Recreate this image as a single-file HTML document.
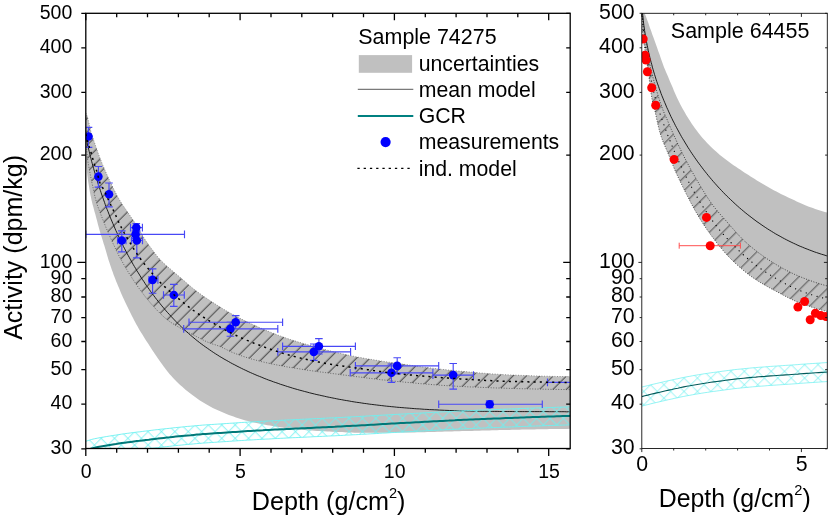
<!DOCTYPE html>
<html><head><meta charset="utf-8"><title>Activity vs Depth</title>
<style>
html,body{margin:0;padding:0;background:#fff;overflow:hidden}
svg{display:block}
text{font-family:"Liberation Sans",sans-serif;fill:#000}
svg{will-change:transform}
</style></head>
<body>
<svg width="830" height="517" viewBox="0 0 830 517">
<defs>
<clipPath id="cl"><rect x="85.8" y="13.3" width="484.4" height="435.2"/></clipPath>
<clipPath id="cr"><rect x="641.8" y="13.3" width="185.5" height="435.2"/></clipPath>
<pattern id="hd" width="9.475" height="9.475" patternUnits="userSpaceOnUse" patternTransform="rotate(-45)"><line x1="0" y1="3.1" x2="9.475" y2="3.1" stroke="#000" stroke-width="0.66"/></pattern>
<pattern id="hdr" width="9.475" height="9.475" patternUnits="userSpaceOnUse" patternTransform="rotate(-45)"><line x1="0" y1="2.65" x2="9.475" y2="2.65" stroke="#000" stroke-width="0.55"/></pattern>
<pattern id="hx" width="9.475" height="9.475" patternUnits="userSpaceOnUse" patternTransform="rotate(45)"><path d="M0 1.63H9.475M2.55 0V9.475" stroke="#6cf0f0" stroke-width="0.78" fill="none"/></pattern>
<pattern id="hxr" width="9.475" height="9.475" patternUnits="userSpaceOnUse" patternTransform="rotate(45)"><path d="M0 1.63H9.475M2.55 0V9.475" stroke="#70f0f0" stroke-width="0.65" fill="none"/></pattern>
</defs>
<rect width="830" height="517" fill="#fff"/>
<g clip-path="url(#cl)">
<path d="M85.8 113 L86.8 115.2 L87.6 117.5 L88.2 119.9 L88.8 122.4 L89.4 124.9 L89.9 127.4 L90.5 129.8 L91.1 132.3 L91.9 134.6 L92.6 137 L93.4 139.4 L94.2 141.8 L95 144.1 L95.8 146.5 L96.7 148.9 L97.5 151.2 L98.3 153.6 L99.2 155.9 L100.1 158.3 L101 160.6 L101.9 162.9 L102.8 165.2 L103.8 167.5 L104.8 169.8 L105.8 172.1 L106.8 174.4 L107.9 176.7 L108.9 179 L110 181.2 L111.1 183.5 L112.1 185.7 L113.2 188 L114.3 190.2 L115.5 192.5 L116.6 194.7 L117.8 196.9 L119 199 L120.3 201.2 L121.6 203.3 L123 205.4 L124.4 207.5 L125.8 209.5 L127.2 211.6 L128.7 213.6 L130.1 215.7 L131.5 217.8 L132.9 219.8 L134.4 221.9 L135.8 223.9 L137.1 226 L138.4 228.2 L139.6 230.4 L140.8 232.6 L142.1 234.8 L143.3 236.9 L144.7 239 L146 241.1 L147.5 243.1 L148.9 245.2 L150.4 247.2 L151.9 249.2 L153.4 251.2 L154.9 253.2 L156.4 255.2 L158 257.2 L159.6 259.1 L161.3 260.9 L163.1 262.6 L164.9 264.3 L166.7 266 L168.6 267.6 L170.6 269.2 L172.5 270.9 L174.4 272.5 L176.3 274.1 L178.2 275.7 L180.1 277.3 L182 279 L183.9 280.6 L185.8 282.3 L187.7 283.9 L189.6 285.5 L191.5 287.2 L193.4 288.7 L195.4 290.3 L197.4 291.8 L199.4 293.3 L201.4 294.7 L203.4 296.2 L205.5 297.6 L207.6 299 L209.7 300.4 L211.8 301.8 L213.9 303.1 L216 304.5 L218.1 305.8 L220.2 307.1 L222.3 308.4 L224.5 309.7 L226.6 311 L228.8 312.3 L231 313.5 L233.2 314.7 L235.4 315.9 L237.6 317 L239.8 318.2 L242 319.3 L244.3 320.4 L246.5 321.6 L248.8 322.6 L251 323.7 L253.3 324.8 L255.6 325.8 L257.8 326.8 L260.1 327.8 L262.4 328.8 L264.7 329.8 L267 330.8 L269.3 331.7 L271.7 332.7 L274 333.6 L276.3 334.5 L278.7 335.4 L281 336.2 L283.3 337.1 L285.7 337.9 L288.1 338.7 L290.4 339.5 L292.8 340.3 L295.2 341 L297.6 341.8 L300 342.5 L302.4 343.2 L304.8 343.9 L307.2 344.6 L309.6 345.3 L312 346 L314.4 346.7 L316.8 347.4 L319.2 348.1 L321.6 348.7 L324 349.4 L326.5 350 L328.9 350.6 L331.3 351.2 L333.7 351.8 L336.2 352.4 L338.6 352.9 L341 353.5 L343.5 354.1 L345.9 354.6 L348.4 355.2 L350.8 355.7 L353.3 356.2 L355.7 356.7 L358.2 357.2 L360.6 357.6 L363.1 358.1 L365.5 358.5 L368 358.9 L370.5 359.3 L372.9 359.7 L375.4 360.1 L377.9 360.5 L380.3 360.9 L382.8 361.3 L385.3 361.7 L387.8 362 L390.2 362.4 L392.7 362.7 L395.2 363.1 L397.7 363.5 L400.1 363.8 L402.6 364.1 L405.1 364.5 L407.6 364.8 L410 365.2 L412.5 365.5 L415 365.9 L417.5 366.2 L419.9 366.6 L422.4 366.9 L424.9 367.2 L427.4 367.5 L429.9 367.9 L432.3 368.2 L434.8 368.5 L437.3 368.8 L439.8 369.1 L442.3 369.4 L444.8 369.6 L447.2 369.9 L449.7 370.2 L452.2 370.4 L454.7 370.7 L457.2 370.9 L459.7 371.1 L462.2 371.4 L464.7 371.6 L467.1 371.8 L469.6 372 L472.1 372.3 L474.6 372.5 L477.1 372.7 L479.6 372.9 L482.1 373.1 L484.6 373.3 L487.1 373.5 L489.6 373.7 L492.1 373.9 L494.6 374 L497.1 374.2 L499.6 374.4 L502.1 374.5 L504.5 374.7 L507 374.8 L509.5 374.9 L512 375 L514.5 375.1 L517 375.2 L519.5 375.3 L522 375.4 L524.5 375.5 L527 375.6 L529.5 375.7 L532 375.8 L534.5 375.9 L537 375.9 L539.5 376 L542 376.1 L544.5 376.2 L547 376.2 L549.5 376.3 L552 376.4 L554.5 376.4 L557 376.5 L559.5 376.5 L562 376.5 L564.5 376.6 L567 376.6 L569.5 376.6 L570.7 376.6 L570.7 428.8 L569.5 428.8 L567 428.9 L564.5 428.9 L562 428.9 L559.5 429 L557 429 L554.5 429 L552 429.1 L549.5 429.1 L547 429.2 L544.5 429.2 L542 429.3 L539.5 429.3 L537 429.3 L534.5 429.4 L532 429.4 L529.5 429.5 L527 429.5 L524.5 429.6 L522 429.6 L519.5 429.7 L517 429.7 L514.5 429.8 L512 429.8 L509.5 429.9 L507 430 L504.5 430 L502 430.1 L499.5 430.1 L497 430.2 L494.5 430.3 L492 430.3 L489.5 430.4 L487 430.5 L484.5 430.5 L482 430.6 L479.5 430.7 L477 430.7 L474.5 430.8 L472 430.9 L469.5 430.9 L467 431 L464.5 431.1 L462 431.1 L459.5 431.2 L457 431.3 L454.5 431.3 L452 431.4 L449.5 431.5 L447.1 431.5 L444.6 431.6 L442.1 431.7 L439.6 431.8 L437.1 431.8 L434.6 431.9 L432.1 432 L429.6 432.1 L427.1 432.1 L424.6 432.2 L422.1 432.2 L419.6 432.3 L417.1 432.3 L414.6 432.4 L412.1 432.4 L409.6 432.4 L407.1 432.5 L404.6 432.5 L402.1 432.5 L399.6 432.6 L397.1 432.6 L394.6 432.6 L392.1 432.6 L389.6 432.7 L387.1 432.7 L384.6 432.7 L382.1 432.7 L379.6 432.7 L377.1 432.8 L374.6 432.8 L372.1 432.8 L369.6 432.8 L367.1 432.8 L364.6 432.8 L362.1 432.8 L359.6 432.8 L357.1 432.8 L354.6 432.7 L352.1 432.6 L349.6 432.5 L347.1 432.4 L344.6 432.3 L342.1 432.1 L339.6 432 L337.1 431.9 L334.6 431.8 L332.1 431.7 L329.6 431.6 L327.1 431.4 L324.6 431.3 L322.1 431.2 L319.6 431 L317.1 430.9 L314.6 430.7 L312.1 430.6 L309.6 430.4 L307.1 430.2 L304.6 430 L302.1 429.8 L299.7 429.5 L297.2 429.3 L294.7 429 L292.2 428.7 L289.7 428.5 L287.2 428.2 L284.8 427.9 L282.3 427.5 L279.8 427.2 L277.3 426.8 L274.8 426.5 L272.4 426.1 L269.9 425.6 L267.4 425.2 L265 424.8 L262.5 424.3 L260.1 423.8 L257.6 423.3 L255.2 422.8 L252.7 422.3 L250.3 421.7 L247.9 421.1 L245.5 420.4 L243.1 419.7 L240.7 419 L238.3 418.3 L235.9 417.5 L233.5 416.6 L231.2 415.8 L228.9 414.9 L226.5 414 L224.2 413.1 L221.9 412.1 L219.6 411.1 L217.3 410.1 L215 409 L212.8 407.9 L210.6 406.7 L208.4 405.6 L206.2 404.3 L204.1 403.1 L202 401.8 L199.9 400.4 L197.8 399 L195.8 397.5 L193.7 396 L191.7 394.5 L189.7 393 L187.8 391.4 L185.8 389.9 L183.9 388.3 L182 386.6 L180.1 385 L178.3 383.3 L176.5 381.5 L174.8 379.7 L173.1 377.9 L171.4 376.1 L169.7 374.2 L168.1 372.2 L166.5 370.3 L165 368.3 L163.5 366.3 L162.1 364.3 L160.6 362.3 L159.2 360.2 L157.8 358.2 L156.3 356.1 L154.9 354 L153.6 351.9 L152.2 349.9 L150.8 347.8 L149.5 345.7 L148.1 343.6 L146.7 341.5 L145.4 339.4 L144 337.3 L142.7 335.1 L141.4 333 L140.1 330.9 L138.8 328.7 L137.6 326.5 L136.4 324.4 L135.2 322.2 L134 319.9 L132.9 317.7 L131.7 315.5 L130.6 313.3 L129.5 311 L128.4 308.8 L127.3 306.5 L126.2 304.3 L125.1 302 L124.1 299.8 L123 297.5 L122 295.2 L121 292.9 L120 290.6 L119.1 288.3 L118.1 286 L117.2 283.7 L116.2 281.4 L115.3 279 L114.4 276.7 L113.5 274.4 L112.7 272 L111.8 269.7 L111 267.3 L110.2 264.9 L109.4 262.6 L108.6 260.2 L107.9 257.8 L107.2 255.4 L106.5 253 L105.8 250.6 L105.1 248.2 L104.4 245.8 L103.6 243.4 L102.9 241 L102.1 238.6 L101.4 236.3 L100.6 233.9 L99.9 231.5 L99.2 229.1 L98.6 226.7 L97.9 224.3 L97.3 221.8 L96.7 219.4 L96 217 L95.4 214.6 L94.7 212.2 L94 209.8 L93.4 207.3 L92.7 204.9 L92.1 202.5 L91.5 200.1 L91 197.6 L90.5 195.2 L90 192.7 L89.6 190.3 L89.2 187.8 L88.8 185.3 L88.4 182.9 L88 180.4 L87.7 177.9 L87.4 175.4 L87.1 173 L86.9 170.5 L86.6 168 L86.4 165.5 L86.2 163 L86 160.5 L85.8 158 Z" fill="#c0c0c0"/>
<path d="M85.8 113 L86.8 115.2 L87.6 117.5 L88.2 119.9 L88.8 122.4 L89.4 124.9 L89.9 127.4 L90.5 129.8 L91.1 132.3 L91.9 134.6 L92.6 137 L93.4 139.4 L94.2 141.8 L95 144.1 L95.8 146.5 L96.7 148.9 L97.5 151.2 L98.3 153.6 L99.2 155.9 L100.1 158.3 L101 160.6 L101.9 162.9 L102.8 165.2 L103.8 167.5 L104.8 169.8 L105.8 172.1 L106.8 174.4 L107.9 176.7 L108.9 179 L110 181.2 L111.1 183.5 L112.1 185.7 L113.2 188 L114.3 190.2 L115.5 192.5 L116.6 194.7 L117.8 196.9 L119 199 L120.3 201.2 L121.6 203.3 L123 205.4 L124.4 207.5 L125.8 209.5 L127.2 211.6 L128.7 213.6 L130.1 215.7 L131.5 217.8 L132.9 219.8 L134.4 221.9 L135.8 223.9 L137.1 226 L138.4 228.2 L139.6 230.4 L140.8 232.6 L142.1 234.8 L143.3 236.9 L144.7 239 L146 241.1 L147.5 243.1 L148.9 245.2 L150.4 247.2 L151.9 249.2 L153.4 251.2 L154.9 253.2 L156.4 255.2 L158 257.2 L159.6 259.1 L161.3 260.9 L163.1 262.6 L164.9 264.3 L166.7 266 L168.6 267.6 L170.6 269.2 L172.5 270.9 L174.4 272.5 L176.3 274.1 L178.2 275.7 L180.1 277.3 L182 279 L183.9 280.6 L185.8 282.3 L187.7 283.9 L189.6 285.5 L191.5 287.2 L193.4 288.7 L195.4 290.3 L197.4 291.8 L199.4 293.3 L201.4 294.7 L203.4 296.2 L205.5 297.6 L207.6 299 L209.7 300.4 L211.8 301.8 L213.9 303.1 L216 304.5 L218.1 305.8 L220.2 307.1 L222.3 308.4 L224.5 309.7 L226.6 311 L228.8 312.3 L231 313.5 L233.2 314.7 L235.4 315.9 L237.6 317 L239.8 318.2 L242 319.3 L244.3 320.4 L246.5 321.6 L248.8 322.6 L251 323.7 L253.3 324.8 L255.6 325.8 L257.8 326.8 L260.1 327.8 L262.4 328.8 L264.7 329.8 L267 330.8 L269.3 331.7 L271.7 332.7 L274 333.6 L276.3 334.5 L278.7 335.4 L281 336.2 L283.3 337.1 L285.7 337.9 L288.1 338.7 L290.4 339.5 L292.8 340.3 L295.2 341 L297.6 341.8 L300 342.5 L302.4 343.2 L304.8 343.9 L307.2 344.6 L309.6 345.3 L312 346 L314.4 346.7 L316.8 347.4 L319.2 348.1 L321.6 348.7 L324 349.4 L326.5 350 L328.9 350.6 L331.3 351.2 L333.7 351.8 L336.2 352.4 L338.6 352.9 L341 353.5 L343.5 354.1 L345.9 354.6 L348.4 355.2 L350.8 355.7 L353.3 356.2 L355.7 356.7 L358.2 357.2 L360.6 357.6 L363.1 358.1 L365.5 358.5 L368 358.9 L370.5 359.3 L372.9 359.7 L375.4 360.1 L377.9 360.5 L380.3 360.9 L382.8 361.3 L385.3 361.7 L387.8 362 L390.2 362.4 L392.7 362.7 L395.2 363.1 L397.7 363.5 L400.1 363.8 L402.6 364.1 L405.1 364.5 L407.6 364.8 L410 365.2 L412.5 365.5 L415 365.9 L417.5 366.2 L419.9 366.6 L422.4 366.9 L424.9 367.2 L427.4 367.5 L429.9 367.9 L432.3 368.2 L434.8 368.5 L437.3 368.8 L439.8 369.1 L442.3 369.4 L444.8 369.6 L447.2 369.9 L449.7 370.2 L452.2 370.4 L454.7 370.7 L457.2 370.9 L459.7 371.1 L462.2 371.4 L464.7 371.6 L467.1 371.8 L469.6 372 L472.1 372.3 L474.6 372.5 L477.1 372.7 L479.6 372.9 L482.1 373.1 L484.6 373.3 L487.1 373.5 L489.6 373.7 L492.1 373.9 L494.6 374 L497.1 374.2 L499.6 374.4 L502.1 374.5 L504.5 374.7 L507 374.8 L509.5 374.9 L512 375 L514.5 375.1 L517 375.2 L519.5 375.3 L522 375.4 L524.5 375.5 L527 375.6 L529.5 375.7 L532 375.8 L534.5 375.9 L537 375.9 L539.5 376 L542 376.1 L544.5 376.2 L547 376.2 L549.5 376.3 L552 376.4 L554.5 376.4 L557 376.5 L559.5 376.5 L562 376.5 L564.5 376.6 L567 376.6 L569.5 376.6 L570.7 376.6 L570.7 389.6 L569.8 389.6 L567.3 389.6 L564.8 389.5 L562.3 389.5 L559.8 389.5 L557.3 389.4 L554.8 389.4 L552.3 389.4 L549.8 389.3 L547.3 389.3 L544.8 389.2 L542.3 389.2 L539.8 389.1 L537.3 389.1 L534.8 389 L532.3 388.9 L529.8 388.9 L527.3 388.8 L524.8 388.8 L522.3 388.7 L519.8 388.6 L517.3 388.6 L514.8 388.5 L512.3 388.5 L509.8 388.4 L507.3 388.3 L504.8 388.2 L502.3 388.2 L499.8 388.1 L497.3 388 L494.8 387.9 L492.3 387.8 L489.8 387.7 L487.3 387.6 L484.8 387.5 L482.3 387.4 L479.8 387.3 L477.3 387.2 L474.8 387.1 L472.3 387 L469.8 386.9 L467.3 386.8 L464.8 386.6 L462.3 386.5 L459.8 386.4 L457.3 386.3 L454.8 386.1 L452.4 386 L449.9 385.8 L447.4 385.7 L444.9 385.5 L442.4 385.4 L439.9 385.2 L437.4 385 L434.9 384.8 L432.4 384.6 L429.9 384.4 L427.4 384.2 L424.9 384 L422.4 383.8 L419.9 383.6 L417.4 383.3 L415 383.1 L412.5 382.9 L410 382.6 L407.5 382.4 L405 382.2 L402.5 381.9 L400 381.7 L397.5 381.5 L395 381.2 L392.6 381 L390.1 380.7 L387.6 380.4 L385.1 380.1 L382.6 379.9 L380.1 379.6 L377.7 379.3 L375.2 379 L372.7 378.7 L370.2 378.4 L367.7 378.1 L365.3 377.8 L362.8 377.4 L360.3 377.1 L357.8 376.8 L355.3 376.5 L352.8 376.2 L350.4 375.8 L347.9 375.5 L345.4 375.2 L342.9 374.9 L340.4 374.6 L338 374.2 L335.5 373.9 L333 373.6 L330.5 373.3 L328 373 L325.6 372.6 L323.1 372.3 L320.6 372 L318.1 371.7 L315.7 371.3 L313.2 371 L310.7 370.6 L308.2 370.3 L305.8 369.9 L303.3 369.5 L300.8 369.1 L298.3 368.7 L295.9 368.3 L293.4 367.9 L290.9 367.5 L288.5 367.1 L286 366.7 L283.6 366.2 L281.1 365.7 L278.7 365.3 L276.2 364.8 L273.7 364.3 L271.3 363.8 L268.8 363.3 L266.4 362.7 L264 362.2 L261.5 361.6 L259.1 361 L256.7 360.4 L254.3 359.7 L251.9 359.1 L249.5 358.4 L247.1 357.6 L244.7 356.9 L242.3 356.1 L239.9 355.2 L237.6 354.4 L235.2 353.5 L232.9 352.6 L230.6 351.7 L228.4 350.6 L226.1 349.4 L223.9 348.3 L221.7 347.2 L219.4 346.2 L217 345.4 L214.6 344.6 L212.2 343.9 L209.9 343.1 L207.6 342.1 L205.3 341.1 L203.1 340 L200.8 338.8 L198.6 337.6 L196.4 336.5 L194.2 335.4 L191.9 334.2 L189.7 333.1 L187.5 332 L185.3 330.8 L183.1 329.6 L180.9 328.4 L178.7 327.1 L176.5 325.9 L174.4 324.6 L172.3 323.3 L170.2 321.9 L168.2 320.4 L166.2 318.9 L164.3 317.3 L162.5 315.6 L160.6 313.8 L158.9 312.1 L157.1 310.3 L155.4 308.5 L153.7 306.6 L152.1 304.8 L150.4 302.9 L148.8 300.9 L147.2 299 L145.6 297.1 L144.1 295.1 L142.6 293.1 L141.1 291.1 L139.6 289.1 L138.1 287.1 L136.7 285 L135.3 283 L133.9 280.9 L132.5 278.8 L131.2 276.7 L129.8 274.6 L128.5 272.5 L127.2 270.3 L125.9 268.2 L124.6 266 L123.4 263.8 L122.2 261.6 L120.9 259.5 L119.8 257.3 L118.6 255.1 L117.5 252.8 L116.4 250.6 L115.3 248.3 L114.3 246 L113.2 243.8 L112.2 241.5 L111.1 239.2 L110.1 236.9 L109.1 234.6 L108.1 232.4 L107.1 230.1 L106.1 227.8 L105.2 225.4 L104.2 223.1 L103.3 220.8 L102.4 218.5 L101.5 216.2 L100.6 213.8 L99.7 211.5 L98.8 209.1 L97.9 206.8 L97.1 204.4 L96.4 202 L95.7 199.6 L95.1 197.2 L94.5 194.8 L94 192.3 L93.5 189.9 L93 187.4 L92.4 185 L91.9 182.6 L91.4 180.1 L90.9 177.7 L90.4 175.2 L89.9 172.7 L89.5 170.3 L89 167.8 L88.6 165.4 L88.1 162.9 L87.8 160.4 L87.4 157.9 L87.2 155.5 L87 153 L86.8 150.5 L86.6 148 L86.5 145.5 L86.3 143 L86.2 140.5 L86 138 L85.9 135.5 L85.9 133 L85.8 130.5 L85.8 128 Z" fill="url(#hd)"/>
<path d="M85.8 128 L85.8 130.5 L85.9 133 L85.9 135.5 L86 138 L86.2 140.5 L86.3 143 L86.5 145.5 L86.6 148 L86.8 150.5 L87 153 L87.2 155.5 L87.4 157.9 L87.8 160.4 L88.1 162.9 L88.6 165.4 L89 167.8 L89.5 170.3 L89.9 172.7 L90.4 175.2 L90.9 177.7 L91.4 180.1 L91.9 182.6 L92.4 185 L93 187.4 L93.5 189.9 L94 192.3 L94.5 194.8 L95.1 197.2 L95.7 199.6 L96.4 202 L97.1 204.4 L97.9 206.8 L98.8 209.1 L99.7 211.5 L100.6 213.8 L101.5 216.2 L102.4 218.5 L103.3 220.8 L104.2 223.1 L105.2 225.4 L106.1 227.8 L107.1 230.1 L108.1 232.4 L109.1 234.6 L110.1 236.9 L111.1 239.2 L112.2 241.5 L113.2 243.8 L114.3 246 L115.3 248.3 L116.4 250.6 L117.5 252.8 L118.6 255.1 L119.8 257.3 L120.9 259.5 L122.2 261.6 L123.4 263.8 L124.6 266 L125.9 268.2 L127.2 270.3 L128.5 272.5 L129.8 274.6 L131.2 276.7 L132.5 278.8 L133.9 280.9 L135.3 283 L136.7 285 L138.1 287.1 L139.6 289.1 L141.1 291.1 L142.6 293.1 L144.1 295.1 L145.6 297.1 L147.2 299 L148.8 300.9 L150.4 302.9 L152.1 304.8 L153.7 306.6 L155.4 308.5 L157.1 310.3 L158.9 312.1 L160.6 313.8 L162.5 315.6 L164.3 317.3 L166.2 318.9 L168.2 320.4 L170.2 321.9 L172.3 323.3 L174.4 324.6 L176.5 325.9 L178.7 327.1 L180.9 328.4 L183.1 329.6 L185.3 330.8 L187.5 332 L189.7 333.1 L191.9 334.2 L194.2 335.4 L196.4 336.5 L198.6 337.6 L200.8 338.8 L203.1 340 L205.3 341.1 L207.6 342.1 L209.9 343.1 L212.2 343.9 L214.6 344.6 L217 345.4 L219.4 346.2 L221.7 347.2 L223.9 348.3 L226.1 349.4 L228.4 350.6 L230.6 351.7 L232.9 352.6 L235.2 353.5 L237.6 354.4 L239.9 355.2 L242.3 356.1 L244.7 356.9 L247.1 357.6 L249.5 358.4 L251.9 359.1 L254.3 359.7 L256.7 360.4 L259.1 361 L261.5 361.6 L264 362.2 L266.4 362.7 L268.8 363.3 L271.3 363.8 L273.7 364.3 L276.2 364.8 L278.7 365.3 L281.1 365.7 L283.6 366.2 L286 366.7 L288.5 367.1 L290.9 367.5 L293.4 367.9 L295.9 368.3 L298.3 368.7 L300.8 369.1 L303.3 369.5 L305.8 369.9 L308.2 370.3 L310.7 370.6 L313.2 371 L315.7 371.3 L318.1 371.7 L320.6 372 L323.1 372.3 L325.6 372.6 L328 373 L330.5 373.3 L333 373.6 L335.5 373.9 L338 374.2 L340.4 374.6 L342.9 374.9 L345.4 375.2 L347.9 375.5 L350.4 375.8 L352.8 376.2 L355.3 376.5 L357.8 376.8 L360.3 377.1 L362.8 377.4 L365.3 377.8 L367.7 378.1 L370.2 378.4 L372.7 378.7 L375.2 379 L377.7 379.3 L380.1 379.6 L382.6 379.9 L385.1 380.1 L387.6 380.4 L390.1 380.7 L392.6 381 L395 381.2 L397.5 381.5 L400 381.7 L402.5 381.9 L405 382.2 L407.5 382.4 L410 382.6 L412.5 382.9 L415 383.1 L417.4 383.3 L419.9 383.6 L422.4 383.8 L424.9 384 L427.4 384.2 L429.9 384.4 L432.4 384.6 L434.9 384.8 L437.4 385 L439.9 385.2 L442.4 385.4 L444.9 385.5 L447.4 385.7 L449.9 385.8 L452.4 386 L454.8 386.1 L457.3 386.3 L459.8 386.4 L462.3 386.5 L464.8 386.6 L467.3 386.8 L469.8 386.9 L472.3 387 L474.8 387.1 L477.3 387.2 L479.8 387.3 L482.3 387.4 L484.8 387.5 L487.3 387.6 L489.8 387.7 L492.3 387.8 L494.8 387.9 L497.3 388 L499.8 388.1 L502.3 388.2 L504.8 388.2 L507.3 388.3 L509.8 388.4 L512.3 388.5 L514.8 388.5 L517.3 388.6 L519.8 388.6 L522.3 388.7 L524.8 388.8 L527.3 388.8 L529.8 388.9 L532.3 388.9 L534.8 389 L537.3 389.1 L539.8 389.1 L542.3 389.2 L544.8 389.2 L547.3 389.3 L549.8 389.3 L552.3 389.4 L554.8 389.4 L557.3 389.4 L559.8 389.5 L562.3 389.5 L564.8 389.5 L567.3 389.6 L569.8 389.6 L570.7 389.6" fill="none" stroke="#333" stroke-width="0.65" stroke-dasharray="1 1.6"/>
<path d="M85.8 113 L86.8 115.2 L87.6 117.5 L88.2 119.9 L88.8 122.4 L89.4 124.9 L89.9 127.4 L90.5 129.8 L91.1 132.3 L91.9 134.6 L92.6 137 L93.4 139.4 L94.2 141.8 L95 144.1 L95.8 146.5 L96.7 148.9 L97.5 151.2 L98.3 153.6 L99.2 155.9 L100.1 158.3 L101 160.6 L101.9 162.9 L102.8 165.2 L103.8 167.5 L104.8 169.8 L105.8 172.1 L106.8 174.4 L107.9 176.7 L108.9 179 L110 181.2 L111.1 183.5 L112.1 185.7 L113.2 188 L114.3 190.2 L115.5 192.5 L116.6 194.7 L117.8 196.9 L119 199 L120.3 201.2 L121.6 203.3 L123 205.4 L124.4 207.5 L125.8 209.5 L127.2 211.6 L128.7 213.6 L130.1 215.7 L131.5 217.8 L132.9 219.8 L134.4 221.9 L135.8 223.9 L137.1 226 L138.4 228.2 L139.6 230.4 L140.8 232.6 L142.1 234.8 L143.3 236.9 L144.7 239 L146 241.1 L147.5 243.1 L148.9 245.2 L150.4 247.2 L151.9 249.2 L153.4 251.2 L154.9 253.2 L156.4 255.2 L158 257.2 L159.6 259.1 L161.3 260.9 L163.1 262.6 L164.9 264.3 L166.7 266 L168.6 267.6 L170.6 269.2 L172.5 270.9 L174.4 272.5 L176.3 274.1 L178.2 275.7 L180.1 277.3 L182 279 L183.9 280.6 L185.8 282.3 L187.7 283.9 L189.6 285.5 L191.5 287.2 L193.4 288.7 L195.4 290.3 L197.4 291.8 L199.4 293.3 L201.4 294.7 L203.4 296.2 L205.5 297.6 L207.6 299 L209.7 300.4 L211.8 301.8 L213.9 303.1 L216 304.5 L218.1 305.8 L220.2 307.1 L222.3 308.4 L224.5 309.7 L226.6 311 L228.8 312.3 L231 313.5 L233.2 314.7 L235.4 315.9 L237.6 317 L239.8 318.2 L242 319.3 L244.3 320.4 L246.5 321.6 L248.8 322.6 L251 323.7 L253.3 324.8 L255.6 325.8 L257.8 326.8 L260.1 327.8 L262.4 328.8 L264.7 329.8 L267 330.8 L269.3 331.7 L271.7 332.7 L274 333.6 L276.3 334.5 L278.7 335.4 L281 336.2 L283.3 337.1 L285.7 337.9 L288.1 338.7 L290.4 339.5 L292.8 340.3 L295.2 341 L297.6 341.8 L300 342.5 L302.4 343.2 L304.8 343.9 L307.2 344.6 L309.6 345.3 L312 346 L314.4 346.7 L316.8 347.4 L319.2 348.1 L321.6 348.7 L324 349.4 L326.5 350 L328.9 350.6 L331.3 351.2 L333.7 351.8 L336.2 352.4 L338.6 352.9 L341 353.5 L343.5 354.1 L345.9 354.6 L348.4 355.2 L350.8 355.7 L353.3 356.2 L355.7 356.7 L358.2 357.2 L360.6 357.6 L363.1 358.1 L365.5 358.5 L368 358.9 L370.5 359.3 L372.9 359.7 L375.4 360.1 L377.9 360.5 L380.3 360.9 L382.8 361.3 L385.3 361.7 L387.8 362 L390.2 362.4 L392.7 362.7 L395.2 363.1 L397.7 363.5 L400.1 363.8 L402.6 364.1 L405.1 364.5 L407.6 364.8 L410 365.2 L412.5 365.5 L415 365.9 L417.5 366.2 L419.9 366.6 L422.4 366.9 L424.9 367.2 L427.4 367.5 L429.9 367.9 L432.3 368.2 L434.8 368.5 L437.3 368.8 L439.8 369.1 L442.3 369.4 L444.8 369.6 L447.2 369.9 L449.7 370.2 L452.2 370.4 L454.7 370.7 L457.2 370.9 L459.7 371.1 L462.2 371.4 L464.7 371.6 L467.1 371.8 L469.6 372 L472.1 372.3 L474.6 372.5 L477.1 372.7 L479.6 372.9 L482.1 373.1 L484.6 373.3 L487.1 373.5 L489.6 373.7 L492.1 373.9 L494.6 374 L497.1 374.2 L499.6 374.4 L502.1 374.5 L504.5 374.7 L507 374.8 L509.5 374.9 L512 375 L514.5 375.1 L517 375.2 L519.5 375.3 L522 375.4 L524.5 375.5 L527 375.6 L529.5 375.7 L532 375.8 L534.5 375.9 L537 375.9 L539.5 376 L542 376.1 L544.5 376.2 L547 376.2 L549.5 376.3 L552 376.4 L554.5 376.4 L557 376.5 L559.5 376.5 L562 376.5 L564.5 376.6 L567 376.6 L569.5 376.6 L570.7 376.6" fill="none" stroke="#555" stroke-width="0.6" stroke-dasharray="1 1.6"/>
<path d="M85.8 137 L86.4 139.4 L86.9 141.8 L87.4 144.2 L88 146.7 L88.6 149.1 L89.2 151.5 L89.8 154 L90.4 156.4 L91 158.8 L91.6 161.3 L92.3 163.7 L92.9 166.1 L93.6 168.5 L94.3 171 L95 173.4 L95.7 175.8 L96.5 178.2 L97.2 180.7 L97.9 183.1 L98.7 185.5 L99.5 187.9 L100.3 190.3 L101.1 192.7 L101.9 195.1 L102.8 197.5 L103.6 199.9 L104.5 202.3 L105.3 204.7 L106.2 207.1 L107.1 209.4 L108.1 211.8 L109 214.2 L109.9 216.5 L110.9 218.9 L111.9 221.2 L112.9 223.6 L113.9 225.9 L114.9 228.2 L115.9 230.6 L117 232.9 L118 235.2 L119.1 237.5 L120.2 239.8 L121.3 242 L122.4 244.3 L123.5 246.6 L124.7 248.8 L125.8 251.1 L127 253.3 L128.2 255.5 L129.4 257.7 L130.6 259.9 L131.9 262.1 L133.1 264.3 L134.4 266.5 L135.7 268.6 L136.9 270.8 L138.3 272.9 L139.6 275 L140.9 277.2 L142.3 279.3 L143.7 281.3 L145 283.4 L146.4 285.5 L147.9 287.5 L149.3 289.5 L150.7 291.6 L152.2 293.6 L153.7 295.5 L155.2 297.5 L156.7 299.5 L158.2 301.4 L159.8 303.3 L161.3 305.2 L162.9 307.1 L164.5 309 L166.1 310.9 L167.7 312.7 L169.4 314.5 L171 316.3 L172.7 318.1 L174.4 319.9 L176.1 321.7 L177.8 323.4 L179.5 325.1 L181.3 326.8 L183.1 328.5 L184.8 330.1 L186.7 331.8 L188.5 333.4 L190.3 335 L192.2 336.6 L194 338.1 L195.9 339.7 L197.8 341.2 L199.7 342.7 L201.7 344.2 L203.6 345.6 L205.6 347 L207.6 348.4 L209.6 349.8 L211.6 351.2 L213.7 352.6 L215.7 353.9 L217.8 355.2 L219.8 356.5 L221.9 357.7 L224 359 L226.2 360.2 L228.3 361.4 L230.4 362.6 L232.6 363.8 L234.8 364.9 L237 366.1 L239.2 367.2 L241.4 368.3 L243.6 369.4 L245.8 370.4 L248.1 371.5 L250.3 372.5 L252.6 373.5 L254.9 374.5 L257.2 375.5 L259.5 376.4 L261.8 377.3 L264.1 378.3 L266.4 379.2 L268.7 380.1 L271.1 380.9 L273.4 381.8 L275.8 382.6 L278.2 383.4 L280.5 384.3 L282.9 385 L285.3 385.8 L287.7 386.6 L290.1 387.3 L292.5 388.1 L294.9 388.8 L297.4 389.5 L299.8 390.2 L302.2 390.8 L304.7 391.5 L307.1 392.1 L309.6 392.8 L312 393.4 L314.5 394 L316.9 394.6 L319.4 395.1 L321.9 395.7 L324.3 396.2 L326.8 396.8 L329.3 397.3 L331.8 397.8 L334.3 398.3 L336.7 398.8 L339.2 399.3 L341.7 399.7 L344.2 400.2 L346.7 400.6 L349.2 401 L351.7 401.5 L354.2 401.9 L356.7 402.3 L359.2 402.6 L361.7 403 L364.2 403.4 L366.7 403.7 L369.2 404.1 L371.7 404.4 L374.2 404.7 L376.7 405 L379.2 405.3 L381.7 405.6 L384.2 405.9 L386.7 406.2 L389.2 406.4 L391.7 406.7 L394.2 406.9 L396.7 407.2 L399.3 407.4 L401.8 407.6 L404.3 407.8 L406.8 408 L409.3 408.2 L411.8 408.4 L414.3 408.6 L416.8 408.8 L419.4 408.9 L421.9 409.1 L424.4 409.3 L426.9 409.4 L429.4 409.6 L431.9 409.7 L434.4 409.8 L437 409.9 L439.5 410.1 L442 410.2 L444.5 410.3 L447 410.4 L449.5 410.5 L452 410.5 L454.6 410.6 L457.1 410.7 L459.6 410.8 L462.1 410.9 L464.6 410.9 L467.1 411 L469.6 411 L472.1 411.1 L474.6 411.1 L477.2 411.2 L479.7 411.2 L482.2 411.3 L484.7 411.3 L487.2 411.3 L489.7 411.4 L492.2 411.4 L494.7 411.4 L497.2 411.4 L499.7 411.5 L502.2 411.5 L504.7 411.5 L507.2 411.5 L509.7 411.5 L512.2 411.5 L514.7 411.6 L517.2 411.6 L519.7 411.6 L522.2 411.6 L524.6 411.6 L527.1 411.6 L529.6 411.6 L532.1 411.6 L534.6 411.6 L537.1 411.6 L539.5 411.6 L542 411.6 L544.5 411.6 L547 411.6 L549.4 411.7 L551.9 411.7 L554.4 411.7 L556.8 411.7 L559.3 411.7 L561.8 411.7 L564.2 411.7 L566.7 411.8 L569.2 411.8 L570.7 411.8" fill="none" stroke="#000" stroke-width="0.85"/>
<path d="M85.8 441.3 L88.8 440.3 L91.8 439.4 L94.8 438.7 L97.8 438.1 L100.8 437.5 L103.8 437 L106.8 436.5 L109.8 436 L112.8 435.5 L115.8 435.1 L118.8 434.6 L121.8 434.1 L124.8 433.7 L127.8 433.3 L130.8 432.9 L133.8 432.5 L136.8 432.1 L139.8 431.8 L142.8 431.4 L145.8 431 L148.8 430.7 L151.8 430.3 L154.8 429.9 L157.8 429.6 L160.8 429.2 L163.8 428.9 L166.8 428.6 L169.8 428.3 L172.8 427.9 L175.8 427.6 L178.8 427.3 L181.8 427 L184.8 426.7 L187.8 426.4 L190.8 426.2 L193.8 425.9 L196.8 425.6 L199.8 425.4 L202.8 425.1 L205.8 424.9 L208.8 424.7 L211.8 424.5 L214.8 424.3 L217.8 424.1 L220.8 423.9 L223.8 423.7 L226.8 423.5 L229.8 423.3 L232.8 423.1 L235.8 422.9 L238.8 422.7 L241.8 422.5 L244.8 422.3 L247.8 422.1 L250.8 422 L253.8 421.8 L256.8 421.6 L259.8 421.4 L262.8 421.3 L265.8 421.1 L268.8 421 L271.8 420.8 L274.8 420.6 L277.8 420.5 L280.8 420.3 L283.8 420.2 L286.8 420 L289.8 419.9 L292.8 419.7 L295.8 419.6 L298.8 419.5 L301.8 419.3 L304.8 419.2 L307.8 419 L310.8 418.9 L313.8 418.7 L316.8 418.6 L319.8 418.5 L322.8 418.3 L325.8 418.2 L328.8 418 L331.8 417.9 L334.8 417.8 L337.8 417.6 L340.8 417.5 L343.8 417.3 L346.8 417.1 L349.8 417 L352.8 416.8 L355.8 416.7 L358.8 416.5 L361.8 416.3 L364.8 416.2 L367.8 416 L370.8 415.8 L373.8 415.7 L376.8 415.5 L379.8 415.3 L382.8 415.1 L385.8 415 L388.8 414.8 L391.8 414.6 L394.8 414.5 L397.8 414.3 L400.8 414.1 L403.8 414 L406.8 413.8 L409.8 413.7 L412.8 413.5 L415.8 413.3 L418.8 413.2 L421.8 413 L424.8 412.8 L427.8 412.7 L430.8 412.5 L433.8 412.3 L436.8 412.2 L439.8 412 L442.8 411.9 L445.8 411.7 L448.8 411.6 L451.8 411.4 L454.8 411.3 L457.8 411.1 L460.8 411 L463.8 410.8 L466.8 410.7 L469.8 410.6 L472.8 410.5 L475.8 410.3 L478.8 410.2 L481.8 410.1 L484.8 410 L487.8 409.8 L490.8 409.7 L493.8 409.6 L496.8 409.5 L499.8 409.4 L502.8 409.2 L505.8 409.1 L508.8 409 L511.8 408.9 L514.8 408.8 L517.8 408.7 L520.8 408.5 L523.8 408.4 L526.8 408.3 L529.8 408.2 L532.8 408.1 L535.8 408 L538.8 407.9 L541.8 407.8 L544.8 407.7 L547.8 407.6 L550.8 407.5 L553.8 407.4 L556.8 407.3 L559.8 407.2 L562.8 407.1 L565.8 407 L568.8 406.9 L570.7 406.8 L570.7 424.8 L568.8 424.9 L565.8 425 L562.8 425.1 L559.8 425.2 L556.8 425.3 L553.8 425.4 L550.8 425.5 L547.8 425.6 L544.8 425.7 L541.8 425.8 L538.8 425.9 L535.8 426 L532.8 426.1 L529.8 426.2 L526.8 426.3 L523.8 426.4 L520.8 426.5 L517.8 426.7 L514.8 426.8 L511.8 426.9 L508.8 427 L505.8 427.1 L502.8 427.2 L499.8 427.4 L496.8 427.5 L493.8 427.6 L490.8 427.7 L487.8 427.8 L484.8 428 L481.8 428.1 L478.8 428.2 L475.8 428.3 L472.8 428.5 L469.8 428.6 L466.8 428.7 L463.8 428.8 L460.8 429 L457.8 429.1 L454.8 429.3 L451.8 429.4 L448.8 429.6 L445.8 429.7 L442.8 429.9 L439.8 430 L436.8 430.2 L433.8 430.3 L430.8 430.5 L427.8 430.7 L424.8 430.8 L421.8 431 L418.8 431.2 L415.8 431.3 L412.8 431.5 L409.8 431.7 L406.8 431.8 L403.8 432 L400.8 432.1 L397.8 432.3 L394.8 432.5 L391.8 432.6 L388.8 432.8 L385.8 433 L382.8 433.1 L379.8 433.3 L376.8 433.5 L373.8 433.7 L370.8 433.8 L367.8 434 L364.8 434.2 L361.8 434.3 L358.8 434.5 L355.8 434.7 L352.8 434.8 L349.8 435 L346.8 435.1 L343.8 435.3 L340.8 435.5 L337.8 435.6 L334.8 435.8 L331.8 435.9 L328.8 436 L325.8 436.2 L322.8 436.3 L319.8 436.5 L316.8 436.6 L313.8 436.7 L310.8 436.9 L307.8 437 L304.8 437.2 L301.8 437.3 L298.8 437.5 L295.8 437.6 L292.8 437.7 L289.8 437.9 L286.8 438 L283.8 438.2 L280.8 438.3 L277.8 438.5 L274.8 438.6 L271.8 438.8 L268.8 439 L265.8 439.1 L262.8 439.3 L259.8 439.4 L256.8 439.6 L253.8 439.8 L250.8 440 L247.8 440.1 L244.8 440.3 L241.8 440.5 L238.8 440.7 L235.8 440.9 L232.8 441.1 L229.8 441.3 L226.8 441.5 L223.8 441.7 L220.8 441.9 L217.8 442.1 L214.8 442.3 L211.8 442.5 L208.8 442.7 L205.8 442.9 L202.8 443.1 L199.8 443.4 L196.8 443.6 L193.8 443.9 L190.8 444.2 L187.8 444.4 L184.8 444.7 L181.8 445 L178.8 445.3 L175.8 445.6 L172.8 445.9 L169.8 446.3 L166.8 446.6 L163.8 446.9 L160.8 447.2 L157.8 447.6 L154.8 447.9 L151.8 448.3 L148.8 448.7 L145.8 449 L142.8 449.4 L139.8 449.8 L136.8 450.1 L133.8 450.5 L130.8 450.9 L127.8 451.3 L124.8 451.7 L121.8 452.1 L118.8 452.6 L115.8 453.1 L112.8 453.5 L109.8 454 L106.8 454.5 L103.8 455 L100.8 455.5 L97.8 456.1 L94.8 456.7 L91.8 457.4 L88.8 458.3 L85.8 459.3 Z" fill="url(#hx)"/>
<path d="M85.8 441.3 L88.8 440.3 L91.8 439.4 L94.8 438.7 L97.8 438.1 L100.8 437.5 L103.8 437 L106.8 436.5 L109.8 436 L112.8 435.5 L115.8 435.1 L118.8 434.6 L121.8 434.1 L124.8 433.7 L127.8 433.3 L130.8 432.9 L133.8 432.5 L136.8 432.1 L139.8 431.8 L142.8 431.4 L145.8 431 L148.8 430.7 L151.8 430.3 L154.8 429.9 L157.8 429.6 L160.8 429.2 L163.8 428.9 L166.8 428.6 L169.8 428.3 L172.8 427.9 L175.8 427.6 L178.8 427.3 L181.8 427 L184.8 426.7 L187.8 426.4 L190.8 426.2 L193.8 425.9 L196.8 425.6 L199.8 425.4 L202.8 425.1 L205.8 424.9 L208.8 424.7 L211.8 424.5 L214.8 424.3 L217.8 424.1 L220.8 423.9 L223.8 423.7 L226.8 423.5 L229.8 423.3 L232.8 423.1 L235.8 422.9 L238.8 422.7 L241.8 422.5 L244.8 422.3 L247.8 422.1 L250.8 422 L253.8 421.8 L256.8 421.6 L259.8 421.4 L262.8 421.3 L265.8 421.1 L268.8 421 L271.8 420.8 L274.8 420.6 L277.8 420.5 L280.8 420.3 L283.8 420.2 L286.8 420 L289.8 419.9 L292.8 419.7 L295.8 419.6 L298.8 419.5 L301.8 419.3 L304.8 419.2 L307.8 419 L310.8 418.9 L313.8 418.7 L316.8 418.6 L319.8 418.5 L322.8 418.3 L325.8 418.2 L328.8 418 L331.8 417.9 L334.8 417.8 L337.8 417.6 L340.8 417.5 L343.8 417.3 L346.8 417.1 L349.8 417 L352.8 416.8 L355.8 416.7 L358.8 416.5 L361.8 416.3 L364.8 416.2 L367.8 416 L370.8 415.8 L373.8 415.7 L376.8 415.5 L379.8 415.3 L382.8 415.1 L385.8 415 L388.8 414.8 L391.8 414.6 L394.8 414.5 L397.8 414.3 L400.8 414.1 L403.8 414 L406.8 413.8 L409.8 413.7 L412.8 413.5 L415.8 413.3 L418.8 413.2 L421.8 413 L424.8 412.8 L427.8 412.7 L430.8 412.5 L433.8 412.3 L436.8 412.2 L439.8 412 L442.8 411.9 L445.8 411.7 L448.8 411.6 L451.8 411.4 L454.8 411.3 L457.8 411.1 L460.8 411 L463.8 410.8 L466.8 410.7 L469.8 410.6 L472.8 410.5 L475.8 410.3 L478.8 410.2 L481.8 410.1 L484.8 410 L487.8 409.8 L490.8 409.7 L493.8 409.6 L496.8 409.5 L499.8 409.4 L502.8 409.2 L505.8 409.1 L508.8 409 L511.8 408.9 L514.8 408.8 L517.8 408.7 L520.8 408.5 L523.8 408.4 L526.8 408.3 L529.8 408.2 L532.8 408.1 L535.8 408 L538.8 407.9 L541.8 407.8 L544.8 407.7 L547.8 407.6 L550.8 407.5 L553.8 407.4 L556.8 407.3 L559.8 407.2 L562.8 407.1 L565.8 407 L568.8 406.9 L570.7 406.8" fill="none" stroke="#6cf0f0" stroke-width="0.9"/>
<path d="M85.8 459.3 L88.8 458.3 L91.8 457.4 L94.8 456.7 L97.8 456.1 L100.8 455.5 L103.8 455 L106.8 454.5 L109.8 454 L112.8 453.5 L115.8 453.1 L118.8 452.6 L121.8 452.1 L124.8 451.7 L127.8 451.3 L130.8 450.9 L133.8 450.5 L136.8 450.1 L139.8 449.8 L142.8 449.4 L145.8 449 L148.8 448.7 L151.8 448.3 L154.8 447.9 L157.8 447.6 L160.8 447.2 L163.8 446.9 L166.8 446.6 L169.8 446.3 L172.8 445.9 L175.8 445.6 L178.8 445.3 L181.8 445 L184.8 444.7 L187.8 444.4 L190.8 444.2 L193.8 443.9 L196.8 443.6 L199.8 443.4 L202.8 443.1 L205.8 442.9 L208.8 442.7 L211.8 442.5 L214.8 442.3 L217.8 442.1 L220.8 441.9 L223.8 441.7 L226.8 441.5 L229.8 441.3 L232.8 441.1 L235.8 440.9 L238.8 440.7 L241.8 440.5 L244.8 440.3 L247.8 440.1 L250.8 440 L253.8 439.8 L256.8 439.6 L259.8 439.4 L262.8 439.3 L265.8 439.1 L268.8 439 L271.8 438.8 L274.8 438.6 L277.8 438.5 L280.8 438.3 L283.8 438.2 L286.8 438 L289.8 437.9 L292.8 437.7 L295.8 437.6 L298.8 437.5 L301.8 437.3 L304.8 437.2 L307.8 437 L310.8 436.9 L313.8 436.7 L316.8 436.6 L319.8 436.5 L322.8 436.3 L325.8 436.2 L328.8 436 L331.8 435.9 L334.8 435.8 L337.8 435.6 L340.8 435.5 L343.8 435.3 L346.8 435.1 L349.8 435 L352.8 434.8 L355.8 434.7 L358.8 434.5 L361.8 434.3 L364.8 434.2 L367.8 434 L370.8 433.8 L373.8 433.7 L376.8 433.5 L379.8 433.3 L382.8 433.1 L385.8 433 L388.8 432.8 L391.8 432.6 L394.8 432.5 L397.8 432.3 L400.8 432.1 L403.8 432 L406.8 431.8 L409.8 431.7 L412.8 431.5 L415.8 431.3 L418.8 431.2 L421.8 431 L424.8 430.8 L427.8 430.7 L430.8 430.5 L433.8 430.3 L436.8 430.2 L439.8 430 L442.8 429.9 L445.8 429.7 L448.8 429.6 L451.8 429.4 L454.8 429.3 L457.8 429.1 L460.8 429 L463.8 428.8 L466.8 428.7 L469.8 428.6 L472.8 428.5 L475.8 428.3 L478.8 428.2 L481.8 428.1 L484.8 428 L487.8 427.8 L490.8 427.7 L493.8 427.6 L496.8 427.5 L499.8 427.4 L502.8 427.2 L505.8 427.1 L508.8 427 L511.8 426.9 L514.8 426.8 L517.8 426.7 L520.8 426.5 L523.8 426.4 L526.8 426.3 L529.8 426.2 L532.8 426.1 L535.8 426 L538.8 425.9 L541.8 425.8 L544.8 425.7 L547.8 425.6 L550.8 425.5 L553.8 425.4 L556.8 425.3 L559.8 425.2 L562.8 425.1 L565.8 425 L568.8 424.9 L570.7 424.8" fill="none" stroke="#6cf0f0" stroke-width="0.9"/>
<path d="M85.8 450.3 L88.8 449.3 L91.8 448.4 L94.8 447.7 L97.8 447.1 L100.8 446.5 L103.8 446 L106.8 445.5 L109.8 445 L112.8 444.5 L115.8 444.1 L118.8 443.6 L121.8 443.1 L124.8 442.7 L127.8 442.3 L130.8 441.9 L133.8 441.5 L136.8 441.1 L139.8 440.8 L142.8 440.4 L145.8 440 L148.8 439.7 L151.8 439.3 L154.8 438.9 L157.8 438.6 L160.8 438.2 L163.8 437.9 L166.8 437.6 L169.8 437.3 L172.8 436.9 L175.8 436.6 L178.8 436.3 L181.8 436 L184.8 435.7 L187.8 435.4 L190.8 435.2 L193.8 434.9 L196.8 434.6 L199.8 434.4 L202.8 434.1 L205.8 433.9 L208.8 433.7 L211.8 433.5 L214.8 433.3 L217.8 433.1 L220.8 432.9 L223.8 432.7 L226.8 432.5 L229.8 432.3 L232.8 432.1 L235.8 431.9 L238.8 431.7 L241.8 431.5 L244.8 431.3 L247.8 431.1 L250.8 431 L253.8 430.8 L256.8 430.6 L259.8 430.4 L262.8 430.3 L265.8 430.1 L268.8 430 L271.8 429.8 L274.8 429.6 L277.8 429.5 L280.8 429.3 L283.8 429.2 L286.8 429 L289.8 428.9 L292.8 428.7 L295.8 428.6 L298.8 428.5 L301.8 428.3 L304.8 428.2 L307.8 428 L310.8 427.9 L313.8 427.7 L316.8 427.6 L319.8 427.5 L322.8 427.3 L325.8 427.2 L328.8 427 L331.8 426.9 L334.8 426.8 L337.8 426.6 L340.8 426.5 L343.8 426.3 L346.8 426.1 L349.8 426 L352.8 425.8 L355.8 425.7 L358.8 425.5 L361.8 425.3 L364.8 425.2 L367.8 425 L370.8 424.8 L373.8 424.7 L376.8 424.5 L379.8 424.3 L382.8 424.1 L385.8 424 L388.8 423.8 L391.8 423.6 L394.8 423.5 L397.8 423.3 L400.8 423.1 L403.8 423 L406.8 422.8 L409.8 422.7 L412.8 422.5 L415.8 422.3 L418.8 422.2 L421.8 422 L424.8 421.8 L427.8 421.7 L430.8 421.5 L433.8 421.3 L436.8 421.2 L439.8 421 L442.8 420.9 L445.8 420.7 L448.8 420.6 L451.8 420.4 L454.8 420.3 L457.8 420.1 L460.8 420 L463.8 419.8 L466.8 419.7 L469.8 419.6 L472.8 419.5 L475.8 419.3 L478.8 419.2 L481.8 419.1 L484.8 419 L487.8 418.8 L490.8 418.7 L493.8 418.6 L496.8 418.5 L499.8 418.4 L502.8 418.2 L505.8 418.1 L508.8 418 L511.8 417.9 L514.8 417.8 L517.8 417.7 L520.8 417.5 L523.8 417.4 L526.8 417.3 L529.8 417.2 L532.8 417.1 L535.8 417 L538.8 416.9 L541.8 416.8 L544.8 416.7 L547.8 416.6 L550.8 416.5 L553.8 416.4 L556.8 416.3 L559.8 416.2 L562.8 416.1 L565.8 416 L568.8 415.9 L570.7 415.8" fill="none" stroke="#007878" stroke-width="2"/>
<path d="M88.5 127.4V147.3M84.7 127.4H92.3M84.7 147.3H92.3M98.4 166.5V187.1M94.6 166.5H102.2M94.6 187.1H102.2M109 183V206.9M105.2 183H112.8M105.2 206.9H112.8M117.5 240.5H126M117.5 236.7V244.3M126 236.7V244.3M121.8 230.8V251.8M118 230.8H125.6M118 251.8H125.6M130.5 227.6H142.4M130.5 223.8V231.4M142.4 223.8V231.4M136.3 223.5V232M132.5 223.5H140.1M132.5 232H140.1M85.8 234.4H184.5M85.8 230.6V238.2M184.5 230.6V238.2M135.6 230.5V238.5M131.8 230.5H139.4M131.8 238.5H139.4M131.5 240.5H142.5M131.5 236.7V244.3M142.5 236.7V244.3M136.8 231V257.9M133 231H140.6M133 257.9H140.6M148.9 279.9H157.9M148.9 276.1V283.7M157.9 276.1V283.7M152.6 268.8V293.2M148.8 268.8H156.4M148.8 293.2H156.4M163.5 295H184.3M163.5 291.2V298.8M184.3 291.2V298.8M173.8 284.3V306.4M170 284.3H177.6M170 306.4H177.6M189 322.2H282.6M189 318.4V326M282.6 318.4V326M235.7 315.6V329M231.9 315.6H239.5M231.9 329H239.5M183.7 328.9H277.8M183.7 325.1V332.7M277.8 325.1V332.7M230.4 322V336.2M226.6 322H234.2M226.6 336.2H234.2M282.6 346.3H355.4M282.6 342.5V350.1M355.4 342.5V350.1M318.9 338.6V354M315.1 338.6H322.7M315.1 354H322.7M277.8 351.9H350.6M277.8 348.1V355.7M350.6 348.1V355.7M313.8 344V360.4M310 344H317.6M310 360.4H317.6M355.4 365.9H438.7M355.4 362.1V369.7M438.7 362.1V369.7M397.2 357.7V374M393.4 357.7H401M393.4 374H401M350.2 372.8H432.9M350.2 369V376.6M432.9 369V376.6M391.4 364V382.4M387.6 364H395.2M387.6 382.4H395.2M432.9 375.1H473.5M432.9 371.3V378.9M473.5 371.3V378.9M453.2 363.5V389.1M449.4 363.5H457M449.4 389.1H457M438.7 404.2H542.3M438.7 400.4V408M542.3 400.4V408M489.7 400.7V407.6M485.9 400.7H493.5M485.9 407.6H493.5M547.5 382.4H640M547.5 378.6V386.2M640 378.6V386.2M595 373V392M591.2 373H598.8M591.2 392H598.8" fill="none" stroke="#4848f5" stroke-width="1.15"/>
<circle cx="88.5" cy="136.5" r="4.3" fill="#0000ff"/>
<circle cx="98.4" cy="176.6" r="4.3" fill="#0000ff"/>
<circle cx="109" cy="194.3" r="4.3" fill="#0000ff"/>
<circle cx="121.8" cy="240.5" r="4.3" fill="#0000ff"/>
<circle cx="136.3" cy="227.6" r="4.3" fill="#0000ff"/>
<circle cx="135.6" cy="234.4" r="4.3" fill="#0000ff"/>
<circle cx="136.8" cy="240.5" r="4.3" fill="#0000ff"/>
<circle cx="152.6" cy="279.9" r="4.3" fill="#0000ff"/>
<circle cx="173.8" cy="295" r="4.3" fill="#0000ff"/>
<circle cx="235.7" cy="322.2" r="4.3" fill="#0000ff"/>
<circle cx="230.4" cy="328.9" r="4.3" fill="#0000ff"/>
<circle cx="318.9" cy="346.3" r="4.3" fill="#0000ff"/>
<circle cx="313.8" cy="351.9" r="4.3" fill="#0000ff"/>
<circle cx="397.2" cy="365.9" r="4.3" fill="#0000ff"/>
<circle cx="391.4" cy="372.8" r="4.3" fill="#0000ff"/>
<circle cx="453.2" cy="375.1" r="4.3" fill="#0000ff"/>
<circle cx="489.7" cy="404.2" r="4.3" fill="#0000ff"/>
<circle cx="595" cy="382.4" r="4.3" fill="#0000ff"/>
<path d="M85.8 134 L86.1 135.5 L86.4 136.9 L86.8 138.4 L87.2 139.8 L87.5 141.3 L87.9 142.7 L88.3 144.2 L88.8 145.6 L89.2 147.1 L89.7 148.5 L90.2 149.9 L90.7 151.3 L91.1 152.8 L91.5 154.2 L91.9 155.6 L92.3 157.1 L92.7 158.5 L93.1 160 L93.5 161.4 L94 162.9 L94.4 164.3 L94.9 165.7 L95.4 167.1 L95.9 168.5 L96.4 170 L96.8 171.4 L97.2 172.8 L97.6 174.3 L98 175.8 L98.3 177.3 L98.7 178.7 L99.1 180.2 L99.5 181.6 L100 183 L100.5 184.4 L101.3 185.6 L102.1 186.9 L102.9 188.2 L103.6 189.5 L104.3 190.8 L104.9 192.2 L105.6 193.6 L106.2 194.9 L106.8 196.3 L107.4 197.7 L108 199 L108.7 200.4 L109.3 201.7 L110 203.1 L110.6 204.5 L111.3 205.8 L111.9 207.2 L112.5 208.5 L113.2 209.9 L113.8 211.2 L114.4 212.6 L115.1 214 L115.7 215.3 L116.3 216.7 L116.9 218.1 L117.5 219.5 L118.1 220.8 L118.7 222.2 L119.3 223.6 L120 224.9 L120.7 226.2 L121.4 227.6 L122.1 228.9 L122.8 230.2 L123.5 231.5 L124.2 232.8 L125 234.1 L125.7 235.4 L126.5 236.8 L127.2 238 L128 239.3 L128.7 240.6 L129.5 241.9 L130.3 243.2 L131 244.5 L131.8 245.8 L132.6 247.1 L133.4 248.3 L134.2 249.6 L135 250.8 L135.9 252.1 L136.7 253.3 L137.5 254.6 L138.4 255.8 L139.2 257.1 L140.1 258.3 L140.9 259.5 L141.8 260.8 L142.7 262 L143.6 263.1 L144.6 264.3 L145.5 265.5 L146.5 266.6 L147.5 267.8 L148.4 268.9 L149.4 270.1 L150.3 271.2 L151.3 272.4 L152.3 273.5 L153.2 274.7 L154.2 275.8 L155.2 277 L156.1 278.1 L157.1 279.2 L158.2 280.3 L159.2 281.4 L160.3 282.5 L161.3 283.5 L162.4 284.5 L163.5 285.6 L164.6 286.6 L165.8 287.6 L166.9 288.6 L168 289.6 L169.1 290.6 L170.2 291.6 L171.4 292.5 L172.5 293.5 L173.7 294.5 L174.8 295.5 L175.9 296.4 L177.1 297.4 L178.2 298.4 L179.4 299.3 L180.5 300.3 L181.7 301.2 L182.8 302.2 L184 303.2 L185.2 304.1 L186.3 305 L187.5 306 L188.7 306.9 L189.9 307.8 L191.1 308.7 L192.3 309.6 L193.5 310.5 L194.7 311.3 L196 312.2 L197.2 313.1 L198.4 313.9 L199.7 314.8 L200.9 315.6 L202.2 316.4 L203.4 317.2 L204.7 318 L206 318.8 L207.2 319.6 L208.5 320.4 L209.8 321.2 L211.1 321.9 L212.4 322.7 L213.7 323.4 L215 324.2 L216.3 324.9 L217.6 325.7 L218.9 326.4 L220.2 327.2 L221.5 327.9 L222.8 328.7 L224.1 329.4 L225.5 330.1 L226.8 330.8 L228.1 331.5 L229.4 332.2 L230.8 332.9 L232.1 333.6 L233.5 334.2 L234.8 334.9 L236.2 335.5 L237.5 336.1 L238.9 336.8 L240.2 337.4 L241.6 338 L243 338.6 L244.4 339.2 L245.8 339.8 L247.1 340.4 L248.5 340.9 L249.9 341.5 L251.3 342.1 L252.7 342.6 L254.1 343.2 L255.5 343.7 L256.9 344.3 L258.3 344.8 L259.7 345.3 L261.1 345.9 L262.5 346.4 L263.9 346.9 L265.3 347.4 L266.7 347.9 L268.2 348.4 L269.6 348.9 L271 349.4 L272.4 349.9 L273.8 350.4 L275.3 350.8 L276.7 351.3 L278.1 351.7 L279.5 352.2 L281 352.6 L282.4 353.1 L283.8 353.5 L285.3 353.9 L286.7 354.3 L288.2 354.8 L289.6 355.2 L291.1 355.6 L292.5 356 L293.9 356.4 L295.4 356.8 L296.9 357.2 L298.3 357.5 L299.8 357.9 L301.2 358.3 L302.7 358.6 L304.1 359 L305.6 359.3 L307 359.6 L308.5 360 L310 360.3 L311.4 360.6 L312.9 360.9 L314.4 361.2 L315.9 361.5 L317.3 361.8 L318.8 362.1 L320.3 362.4 L321.7 362.7 L323.2 362.9 L324.7 363.2 L326.2 363.5 L327.7 363.7 L329.1 364 L330.6 364.2 L332.1 364.5 L333.6 364.7 L335.1 364.9 L336.5 365.2 L338 365.4 L339.5 365.6 L341 365.8 L342.5 366 L344 366.2 L345.4 366.5 L346.9 366.7 L348.4 366.9 L349.9 367.1 L351.4 367.3 L352.9 367.5 L354.4 367.7 L355.8 367.9 L357.3 368.2 L358.8 368.4 L360.3 368.6 L361.8 368.8 L363.3 369 L364.7 369.2 L366.2 369.5 L367.7 369.7 L369.2 369.9 L370.7 370.1 L372.2 370.3 L373.7 370.6 L375.1 370.8 L376.6 371 L378.1 371.2 L379.6 371.4 L381.1 371.6 L382.6 371.8 L384.1 372 L385.5 372.2 L387 372.4 L388.5 372.6 L390 372.8 L391.5 373 L393 373.1 L394.5 373.3 L396 373.5 L397.5 373.6 L398.9 373.8 L400.4 374 L401.9 374.1 L403.4 374.3 L404.9 374.4 L406.4 374.6 L407.9 374.7 L409.4 374.9 L410.9 375 L412.4 375.1 L413.9 375.3 L415.4 375.4 L416.8 375.6 L418.3 375.7 L419.8 375.8 L421.3 376 L422.8 376.1 L424.3 376.2 L425.8 376.4 L427.3 376.5 L428.8 376.6 L430.3 376.7 L431.8 376.9 L433.3 377 L434.8 377.1 L436.3 377.2 L437.8 377.3 L439.3 377.4 L440.8 377.5 L442.3 377.7 L443.8 377.8 L445.3 377.9 L446.8 378 L448.3 378.1 L449.8 378.2 L451.3 378.3 L452.7 378.4 L454.2 378.5 L455.7 378.6 L457.2 378.7 L458.7 378.8 L460.2 378.9 L461.7 379 L463.2 379 L464.7 379.1 L466.2 379.2 L467.7 379.3 L469.2 379.4 L470.7 379.5 L472.2 379.6 L473.7 379.7 L475.2 379.8 L476.7 379.9 L478.2 379.9 L479.7 380 L481.2 380.1 L482.7 380.2 L484.2 380.3 L485.7 380.4 L487.2 380.4 L488.7 380.5 L490.2 380.6 L491.7 380.7 L493.2 380.7 L494.7 380.8 L496.2 380.9 L497.7 380.9 L499.2 381 L500.7 381.1 L502.2 381.1 L503.7 381.2 L505.2 381.2 L506.7 381.3 L508.2 381.3 L509.7 381.4 L511.2 381.4 L512.7 381.5 L514.2 381.5 L515.7 381.5 L517.2 381.6 L518.7 381.6 L520.2 381.6 L521.7 381.7 L523.2 381.7 L524.7 381.8 L526.2 381.8 L527.7 381.8 L529.2 381.9 L530.7 381.9 L532.2 381.9 L533.7 381.9 L535.2 382 L536.7 382 L538.2 382 L539.7 382.1 L541.2 382.1 L542.7 382.1 L544.2 382.2 L545.7 382.2 L547.2 382.2 L548.7 382.2 L550.2 382.2 L551.7 382.3 L553.2 382.3 L554.7 382.3 L556.2 382.3 L557.7 382.3 L559.2 382.3 L560.7 382.4 L562.2 382.4 L563.7 382.4 L565.2 382.4 L566.7 382.4 L568.2 382.4 L569.7 382.4 L570.7 382.4" fill="none" stroke="#000" stroke-width="1.5" stroke-dasharray="2.1 4.1"/>
</g>
<g stroke="#000" fill="none">
<rect x="85.8" y="13.3" width="484.4" height="435.2" stroke-width="1.3"/>
<path d="M85.8 13.3H81.3M570.2 13.3H566.2M85.8 47.8H81.3M570.2 47.8H566.2M85.8 92.4H81.3M570.2 92.4H566.2M85.8 155.1H81.3M570.2 155.1H566.2M85.8 262.4H77.3M570.2 262.4H563.2M85.8 278.7H81.3M570.2 278.7H566.2M85.8 297H81.3M570.2 297H566.2M85.8 317.6H81.3M570.2 317.6H566.2M85.8 341.5H81.3M570.2 341.5H566.2M85.8 369.7H81.3M570.2 369.7H566.2M85.8 404.2H81.3M570.2 404.2H566.2M85.8 448.8H81.3M570.2 448.8H566.2M85.8 448.5V456M85.8 13.3V20.3M116.7 448.5V452.8M116.7 13.3V17.3M147.5 448.5V452.8M147.5 13.3V17.3M178.4 448.5V452.8M178.4 13.3V17.3M209.2 448.5V452.8M209.2 13.3V17.3M240.1 448.5V456M240.1 13.3V20.3M271 448.5V452.8M271 13.3V17.3M301.8 448.5V452.8M301.8 13.3V17.3M332.7 448.5V452.8M332.7 13.3V17.3M363.5 448.5V452.8M363.5 13.3V17.3M394.4 448.5V456M394.4 13.3V20.3M425.3 448.5V452.8M425.3 13.3V17.3M456.1 448.5V452.8M456.1 13.3V17.3M487 448.5V452.8M487 13.3V17.3M517.8 448.5V452.8M517.8 13.3V17.3M548.7 448.5V456M548.7 13.3V20.3" stroke-width="1.3"/>
</g>
<g font-size="19.5" text-anchor="end">
<text x="72.3" y="18.5">500</text>
<text x="72.3" y="53">400</text>
<text x="72.3" y="97.6">300</text>
<text x="72.3" y="160.3">200</text>
<text x="72.3" y="267.6">100</text>
<text x="72.3" y="283.9">90</text>
<text x="72.3" y="302.2">80</text>
<text x="72.3" y="322.8">70</text>
<text x="72.3" y="346.7">60</text>
<text x="72.3" y="374.9">50</text>
<text x="72.3" y="409.4">40</text>
<text x="72.3" y="454">30</text>
</g>
<g font-size="19.5" text-anchor="middle">
<text x="86.1" y="478">0</text>
<text x="240.4" y="478">5</text>
<text x="394.7" y="478">10</text>
<text x="549" y="478">15</text>
</g>
<text font-size="25.2" x="251.8" y="510.3" text-anchor="start">Depth (g/cm<tspan font-size="14.6" dy="-12.6">2</tspan><tspan dy="12.6">)</tspan></text>
<text font-size="25" transform="translate(22.3,339.8) rotate(-90)">Activity (dpm/kg)</text>
<g font-size="21.25">
<text x="358.3" y="44.2" font-size="21.45">Sample 74275</text>
<rect x="358.8" y="55.1" width="53.3" height="17.7" fill="#c0c0c0"/>
<text x="418.7" y="71">uncertainties</text>
<path d="M357.8 89.4H413.3" stroke="#7a7a7a" stroke-width="1.3"/>
<text x="418.7" y="96.5">mean model</text>
<path d="M357.8 115.9H413.3" stroke="#008080" stroke-width="2"/>
<text x="418.7" y="123.2">GCR</text>
<circle cx="385.6" cy="142.1" r="5.1" fill="#0000ff"/>
<text x="418.7" y="149">measurements</text>
<path d="M357.4 168.3H410" stroke="#000" stroke-width="1.3" stroke-dasharray="2.3 3.95"/>
<text x="418.7" y="175.7">ind. model</text>
</g>
<g clip-path="url(#cr)">
<path d="M644.6 13.3 L645.6 15.6 L646.5 17.9 L647.3 20.3 L648.2 22.6 L649 25 L649.8 27.4 L650.7 29.7 L651.5 32.1 L652.3 34.4 L653.2 36.8 L654 39.1 L654.9 41.5 L655.7 43.8 L656.6 46.2 L657.4 48.5 L658.2 50.9 L659.1 53.3 L659.9 55.6 L660.7 58 L661.5 60.3 L662.4 62.7 L663.2 65 L664.1 67.4 L665.1 69.7 L666 72 L667 74.3 L668 76.6 L669 78.9 L669.9 81.2 L670.9 83.5 L671.9 85.8 L672.9 88.1 L673.8 90.4 L674.8 92.7 L675.8 95 L676.8 97.3 L677.9 99.6 L679 101.8 L680.1 104 L681.3 106.2 L682.5 108.4 L683.7 110.6 L685 112.8 L686.2 114.9 L687.5 117.1 L688.9 119.2 L690.2 121.3 L691.6 123.4 L693 125.5 L694.4 127.5 L695.9 129.5 L697.4 131.5 L698.9 133.5 L700.5 135.5 L702.1 137.4 L703.7 139.3 L705.4 141.1 L707.1 143 L708.9 144.7 L710.6 146.5 L712.4 148.2 L714.3 149.9 L716.1 151.6 L718 153.3 L719.9 154.9 L721.9 156.5 L723.8 158 L725.8 159.5 L727.8 161 L729.8 162.5 L731.8 164 L733.9 165.4 L736 166.8 L738 168.2 L740.1 169.6 L742.2 171 L744.3 172.4 L746.4 173.7 L748.5 175.1 L750.6 176.4 L752.7 177.8 L754.8 179.1 L756.9 180.4 L759.1 181.7 L761.2 183 L763.4 184.3 L765.5 185.6 L767.7 186.8 L769.8 188.1 L772 189.3 L774.2 190.5 L776.4 191.6 L778.7 192.8 L780.9 193.9 L783.1 195 L785.4 196.1 L787.7 197.2 L789.9 198.2 L792.2 199.3 L794.5 200.3 L796.7 201.4 L799 202.5 L801.3 203.5 L803.6 204.5 L805.9 205.5 L808.2 206.4 L810.5 207.2 L812.9 208.1 L815.2 208.9 L817.6 209.7 L820 210.4 L822.4 211.2 L824.8 211.9 L827.2 212.5 L827.5 212.6 L827.5 311.5 L827 311.4 L824.6 310.8 L822.1 310.2 L819.7 309.5 L817.3 308.8 L814.9 308.1 L812.5 307.4 L810.1 306.6 L807.8 305.8 L805.4 304.9 L803.1 304.1 L800.7 303.2 L798.4 302.3 L796.1 301.4 L793.9 300.4 L791.6 299.3 L789.3 298.3 L787.1 297.1 L784.9 296 L782.6 294.8 L780.4 293.6 L778.2 292.4 L776 291.2 L773.8 290.1 L771.6 288.9 L769.4 287.7 L767.2 286.4 L765 285.2 L762.9 283.9 L760.7 282.7 L758.6 281.4 L756.5 280 L754.4 278.7 L752.3 277.2 L750.3 275.8 L748.3 274.3 L746.4 272.8 L744.4 271.2 L742.5 269.6 L740.6 268 L738.7 266.3 L736.8 264.6 L735 262.9 L733.2 261.2 L731.4 259.4 L729.6 257.6 L727.9 255.9 L726.2 254 L724.5 252.2 L722.9 250.3 L721.3 248.4 L719.7 246.5 L718.1 244.5 L716.5 242.5 L715 240.5 L713.5 238.5 L712 236.5 L710.5 234.5 L709.1 232.5 L707.6 230.5 L706.2 228.4 L704.8 226.3 L703.4 224.2 L702.1 222.1 L700.7 220 L699.4 217.9 L698.1 215.7 L696.9 213.6 L695.6 211.4 L694.4 209.3 L693.2 207.1 L692 204.9 L690.8 202.7 L689.7 200.4 L688.5 198.2 L687.4 196 L686.2 193.8 L685.1 191.5 L684 189.3 L682.9 187.1 L681.8 184.8 L680.7 182.6 L679.6 180.3 L678.5 178 L677.5 175.8 L676.4 173.5 L675.4 171.2 L674.4 168.9 L673.5 166.6 L672.5 164.3 L671.5 162 L670.6 159.7 L669.7 157.4 L668.7 155 L667.8 152.7 L666.8 150.4 L665.8 148.1 L664.8 145.8 L663.8 143.5 L662.9 141.2 L662 138.8 L661.2 136.5 L660.4 134.1 L659.7 131.8 L659.1 129.4 L658.5 126.9 L657.9 124.5 L657.4 122 L656.8 119.6 L656.3 117.1 L655.8 114.7 L655.3 112.2 L654.7 109.8 L654.1 107.4 L653.4 105 L652.8 102.5 L652.2 100.1 L651.8 97.7 L651.4 95.2 L651 92.7 L650.6 90.3 L650.3 87.8 L650 85.3 L649.7 82.8 L649.4 80.3 L649.1 77.8 L648.8 75.4 L648.4 72.9 L648.1 70.4 L647.7 67.9 L647.4 65.5 L647 63 L646.6 60.5 L646.2 58 L645.8 55.6 L645.4 53.1 L645.1 50.6 L644.7 48.2 L644.4 45.7 L644 43.2 L643.6 40.7 L643.3 38.2 L643 35.8 L642.7 33.3 L642.5 30.8 L642.4 28.3 L642.3 25.8 L642.2 23.3 L642.1 20.8 L642 18.3 L641.9 15.8 L641.9 13.3 Z" fill="#c0c0c0"/>
<path d="M642.4 13.3 L642.6 15.8 L642.8 18.3 L643 20.8 L643.3 23.3 L643.5 25.8 L643.8 28.2 L644.1 30.7 L644.4 33.2 L644.7 35.7 L645.1 38.1 L645.5 40.6 L645.9 43.1 L646.3 45.6 L646.7 48 L647.2 50.5 L647.6 52.9 L648.1 55.4 L648.6 57.8 L649 60.3 L649.6 62.7 L650.1 65.2 L650.6 67.6 L651.2 70.1 L651.8 72.5 L652.4 74.9 L653 77.4 L653.6 79.8 L654.2 82.2 L654.9 84.6 L655.6 87 L656.2 89.4 L656.9 91.8 L657.7 94.2 L658.4 96.6 L659.2 99 L659.9 101.4 L660.8 103.8 L661.6 106.1 L662.4 108.5 L663.3 110.8 L664.2 113.1 L665.2 115.4 L666.3 117.7 L667.3 120 L668.3 122.3 L669.2 124.6 L670.2 126.9 L671.2 129.2 L672.2 131.5 L673.2 133.7 L674.2 136 L675.3 138.3 L676.3 140.6 L677.3 142.9 L678.4 145.1 L679.5 147.4 L680.6 149.6 L681.6 151.9 L682.8 154.1 L683.9 156.3 L685 158.6 L686.2 160.8 L687.4 163 L688.5 165.2 L689.7 167.4 L690.9 169.6 L692.1 171.8 L693.4 174 L694.6 176.1 L695.8 178.3 L697.1 180.5 L698.4 182.6 L699.6 184.8 L700.9 186.9 L702.2 189.1 L703.5 191.2 L704.8 193.4 L706.2 195.5 L707.5 197.6 L708.9 199.7 L710.3 201.7 L711.7 203.8 L713.2 205.8 L714.7 207.7 L716.3 209.7 L717.9 211.6 L719.5 213.5 L721.2 215.4 L722.8 217.3 L724.5 219.1 L726.2 221 L727.8 222.9 L729.5 224.8 L731.1 226.7 L732.8 228.6 L734.4 230.4 L736.1 232.3 L737.7 234.2 L739.4 236 L741.2 237.8 L743 239.5 L744.8 241.3 L746.6 243 L748.5 244.6 L750.4 246.3 L752.3 247.8 L754.2 249.4 L756.2 250.9 L758.2 252.5 L760.2 254 L762.2 255.4 L764.3 256.9 L766.4 258.3 L768.4 259.7 L770.5 261.1 L772.6 262.4 L774.8 263.7 L776.9 265 L779 266.3 L781.2 267.5 L783.4 268.7 L785.6 269.9 L787.9 271.1 L790.1 272.2 L792.4 273.3 L794.6 274.4 L796.9 275.4 L799.2 276.3 L801.5 277.3 L803.8 278.2 L806.1 279.1 L808.5 280 L810.8 280.8 L813.2 281.7 L815.5 282.5 L817.9 283.2 L820.3 284 L822.7 284.7 L825.1 285.4 L827.5 286 L827.5 311.5 L827 311.4 L824.6 310.8 L822.1 310.2 L819.7 309.5 L817.3 308.8 L814.9 308.1 L812.5 307.4 L810.1 306.6 L807.8 305.8 L805.4 304.9 L803.1 304.1 L800.7 303.2 L798.4 302.3 L796.1 301.4 L793.9 300.4 L791.6 299.3 L789.3 298.3 L787.1 297.1 L784.9 296 L782.6 294.8 L780.4 293.6 L778.2 292.4 L776 291.2 L773.8 290.1 L771.6 288.9 L769.4 287.7 L767.2 286.4 L765 285.2 L762.9 283.9 L760.7 282.7 L758.6 281.4 L756.5 280 L754.4 278.7 L752.3 277.2 L750.3 275.8 L748.3 274.3 L746.4 272.8 L744.4 271.2 L742.5 269.6 L740.6 268 L738.7 266.3 L736.8 264.6 L735 262.9 L733.2 261.2 L731.4 259.4 L729.6 257.6 L727.9 255.9 L726.2 254 L724.5 252.2 L722.9 250.3 L721.3 248.4 L719.7 246.5 L718.1 244.5 L716.5 242.5 L715 240.5 L713.5 238.5 L712 236.5 L710.5 234.5 L709.1 232.5 L707.6 230.5 L706.2 228.4 L704.8 226.3 L703.4 224.2 L702.1 222.1 L700.7 220 L699.4 217.9 L698.1 215.7 L696.9 213.6 L695.6 211.4 L694.4 209.3 L693.2 207.1 L692 204.9 L690.8 202.7 L689.7 200.4 L688.5 198.2 L687.4 196 L686.2 193.8 L685.1 191.5 L684 189.3 L682.9 187.1 L681.8 184.8 L680.7 182.6 L679.6 180.3 L678.5 178 L677.5 175.8 L676.4 173.5 L675.4 171.2 L674.4 168.9 L673.5 166.6 L672.5 164.3 L671.5 162 L670.6 159.7 L669.7 157.4 L668.7 155 L667.8 152.7 L666.8 150.4 L665.8 148.1 L664.8 145.8 L663.8 143.5 L662.9 141.2 L662 138.8 L661.2 136.5 L660.4 134.1 L659.7 131.8 L659.1 129.4 L658.5 126.9 L657.9 124.5 L657.4 122 L656.8 119.6 L656.3 117.1 L655.8 114.7 L655.3 112.2 L654.7 109.8 L654.1 107.4 L653.4 105 L652.8 102.5 L652.2 100.1 L651.8 97.7 L651.4 95.2 L651 92.7 L650.6 90.3 L650.3 87.8 L650 85.3 L649.7 82.8 L649.4 80.3 L649.1 77.8 L648.8 75.4 L648.4 72.9 L648.1 70.4 L647.7 67.9 L647.4 65.5 L647 63 L646.6 60.5 L646.2 58 L645.8 55.6 L645.4 53.1 L645.1 50.6 L644.7 48.2 L644.4 45.7 L644 43.2 L643.6 40.7 L643.3 38.2 L643 35.8 L642.7 33.3 L642.5 30.8 L642.4 28.3 L642.3 25.8 L642.2 23.3 L642.1 20.8 L642 18.3 L641.9 15.8 L641.9 13.3 Z" fill="url(#hdr)"/>
<path d="M641.9 13.3 L641.9 15.8 L642 18.3 L642.1 20.8 L642.2 23.3 L642.3 25.8 L642.4 28.3 L642.5 30.8 L642.7 33.3 L643 35.8 L643.3 38.2 L643.6 40.7 L644 43.2 L644.4 45.7 L644.7 48.2 L645.1 50.6 L645.4 53.1 L645.8 55.6 L646.2 58 L646.6 60.5 L647 63 L647.4 65.5 L647.7 67.9 L648.1 70.4 L648.4 72.9 L648.8 75.4 L649.1 77.8 L649.4 80.3 L649.7 82.8 L650 85.3 L650.3 87.8 L650.6 90.3 L651 92.7 L651.4 95.2 L651.8 97.7 L652.2 100.1 L652.8 102.5 L653.4 105 L654.1 107.4 L654.7 109.8 L655.3 112.2 L655.8 114.7 L656.3 117.1 L656.8 119.6 L657.4 122 L657.9 124.5 L658.5 126.9 L659.1 129.4 L659.7 131.8 L660.4 134.1 L661.2 136.5 L662 138.8 L662.9 141.2 L663.8 143.5 L664.8 145.8 L665.8 148.1 L666.8 150.4 L667.8 152.7 L668.7 155 L669.7 157.4 L670.6 159.7 L671.5 162 L672.5 164.3 L673.5 166.6 L674.4 168.9 L675.4 171.2 L676.4 173.5 L677.5 175.8 L678.5 178 L679.6 180.3 L680.7 182.6 L681.8 184.8 L682.9 187.1 L684 189.3 L685.1 191.5 L686.2 193.8 L687.4 196 L688.5 198.2 L689.7 200.4 L690.8 202.7 L692 204.9 L693.2 207.1 L694.4 209.3 L695.6 211.4 L696.9 213.6 L698.1 215.7 L699.4 217.9 L700.7 220 L702.1 222.1 L703.4 224.2 L704.8 226.3 L706.2 228.4 L707.6 230.5 L709.1 232.5 L710.5 234.5 L712 236.5 L713.5 238.5 L715 240.5 L716.5 242.5 L718.1 244.5 L719.7 246.5 L721.3 248.4 L722.9 250.3 L724.5 252.2 L726.2 254 L727.9 255.9 L729.6 257.6 L731.4 259.4 L733.2 261.2 L735 262.9 L736.8 264.6 L738.7 266.3 L740.6 268 L742.5 269.6 L744.4 271.2 L746.4 272.8 L748.3 274.3 L750.3 275.8 L752.3 277.2 L754.4 278.7 L756.5 280 L758.6 281.4 L760.7 282.7 L762.9 283.9 L765 285.2 L767.2 286.4 L769.4 287.7 L771.6 288.9 L773.8 290.1 L776 291.2 L778.2 292.4 L780.4 293.6 L782.6 294.8 L784.9 296 L787.1 297.1 L789.3 298.3 L791.6 299.3 L793.9 300.4 L796.1 301.4 L798.4 302.3 L800.7 303.2 L803.1 304.1 L805.4 304.9 L807.8 305.8 L810.1 306.6 L812.5 307.4 L814.9 308.1 L817.3 308.8 L819.7 309.5 L822.1 310.2 L824.6 310.8 L827 311.4 L827.5 311.5" fill="none" stroke="#222" stroke-width="0.8" stroke-dasharray="1 1.6"/>
<path d="M642.4 13.3 L642.6 15.8 L642.8 18.3 L643 20.8 L643.3 23.3 L643.5 25.8 L643.8 28.2 L644.1 30.7 L644.4 33.2 L644.7 35.7 L645.1 38.1 L645.5 40.6 L645.9 43.1 L646.3 45.6 L646.7 48 L647.2 50.5 L647.6 52.9 L648.1 55.4 L648.6 57.8 L649 60.3 L649.6 62.7 L650.1 65.2 L650.6 67.6 L651.2 70.1 L651.8 72.5 L652.4 74.9 L653 77.4 L653.6 79.8 L654.2 82.2 L654.9 84.6 L655.6 87 L656.2 89.4 L656.9 91.8 L657.7 94.2 L658.4 96.6 L659.2 99 L659.9 101.4 L660.8 103.8 L661.6 106.1 L662.4 108.5 L663.3 110.8 L664.2 113.1 L665.2 115.4 L666.3 117.7 L667.3 120 L668.3 122.3 L669.2 124.6 L670.2 126.9 L671.2 129.2 L672.2 131.5 L673.2 133.7 L674.2 136 L675.3 138.3 L676.3 140.6 L677.3 142.9 L678.4 145.1 L679.5 147.4 L680.6 149.6 L681.6 151.9 L682.8 154.1 L683.9 156.3 L685 158.6 L686.2 160.8 L687.4 163 L688.5 165.2 L689.7 167.4 L690.9 169.6 L692.1 171.8 L693.4 174 L694.6 176.1 L695.8 178.3 L697.1 180.5 L698.4 182.6 L699.6 184.8 L700.9 186.9 L702.2 189.1 L703.5 191.2 L704.8 193.4 L706.2 195.5 L707.5 197.6 L708.9 199.7 L710.3 201.7 L711.7 203.8 L713.2 205.8 L714.7 207.7 L716.3 209.7 L717.9 211.6 L719.5 213.5 L721.2 215.4 L722.8 217.3 L724.5 219.1 L726.2 221 L727.8 222.9 L729.5 224.8 L731.1 226.7 L732.8 228.6 L734.4 230.4 L736.1 232.3 L737.7 234.2 L739.4 236 L741.2 237.8 L743 239.5 L744.8 241.3 L746.6 243 L748.5 244.6 L750.4 246.3 L752.3 247.8 L754.2 249.4 L756.2 250.9 L758.2 252.5 L760.2 254 L762.2 255.4 L764.3 256.9 L766.4 258.3 L768.4 259.7 L770.5 261.1 L772.6 262.4 L774.8 263.7 L776.9 265 L779 266.3 L781.2 267.5 L783.4 268.7 L785.6 269.9 L787.9 271.1 L790.1 272.2 L792.4 273.3 L794.6 274.4 L796.9 275.4 L799.2 276.3 L801.5 277.3 L803.8 278.2 L806.1 279.1 L808.5 280 L810.8 280.8 L813.2 281.7 L815.5 282.5 L817.9 283.2 L820.3 284 L822.7 284.7 L825.1 285.4 L827.5 286" fill="none" stroke="#222" stroke-width="0.8" stroke-dasharray="1 1.6"/>
<path d="M642.6 13.3 L642.8 15.8 L643.1 18.2 L643.3 20.7 L643.6 23.2 L643.9 25.6 L644.3 28.1 L644.6 30.5 L645 33 L645.4 35.5 L645.8 37.9 L646.2 40.4 L646.7 42.8 L647.2 45.3 L647.7 47.7 L648.2 50.2 L648.7 52.6 L649.3 55 L649.9 57.5 L650.5 59.9 L651.1 62.3 L651.8 64.7 L652.4 67.2 L653.1 69.6 L653.8 72 L654.5 74.4 L655.3 76.8 L656 79.2 L656.8 81.6 L657.6 83.9 L658.5 86.3 L659.3 88.7 L660.2 91 L661 93.4 L661.9 95.7 L662.9 98.1 L663.8 100.4 L664.8 102.7 L665.8 105 L666.7 107.3 L667.8 109.6 L668.8 111.9 L669.9 114.2 L670.9 116.5 L672 118.7 L673.1 121 L674.3 123.2 L675.4 125.5 L676.6 127.7 L677.8 129.9 L679 132.1 L680.2 134.3 L681.4 136.5 L682.7 138.7 L684 140.8 L685.3 143 L686.6 145.1 L687.9 147.3 L689.3 149.4 L690.6 151.5 L692 153.6 L693.4 155.6 L694.8 157.7 L696.3 159.8 L697.7 161.8 L699.2 163.8 L700.7 165.8 L702.2 167.8 L703.7 169.8 L705.3 171.8 L706.8 173.7 L708.4 175.7 L710 177.6 L711.6 179.5 L713.2 181.4 L714.9 183.3 L716.5 185.1 L718.2 187 L719.9 188.8 L721.6 190.6 L723.3 192.4 L725 194.2 L726.8 196 L728.6 197.7 L730.4 199.4 L732.2 201.1 L734 202.8 L735.8 204.5 L737.7 206.2 L739.5 207.8 L741.4 209.4 L743.3 211 L745.2 212.6 L747.2 214.2 L749.1 215.7 L751.1 217.2 L753 218.7 L755 220.2 L757 221.7 L759.1 223.1 L761.1 224.5 L763.1 225.9 L765.2 227.3 L767.3 228.7 L769.4 230 L771.5 231.3 L773.6 232.6 L775.7 233.9 L777.9 235.1 L780.1 236.3 L782.2 237.5 L784.4 238.7 L786.7 239.9 L788.9 241 L791.1 242.1 L793.4 243.2 L795.6 244.2 L797.9 245.3 L800.2 246.3 L802.5 247.2 L804.8 248.2 L807.2 249.1 L809.5 250 L811.9 250.9 L814.2 251.8 L816.6 252.6 L819 253.4 L821.4 254.2 L823.9 254.9 L826.3 255.7 L827.5 256" fill="none" stroke="#000" stroke-width="0.85"/>
<path d="M641.8 387.1 L644.8 386.3 L647.8 385.6 L650.8 384.8 L653.8 384.1 L656.8 383.4 L659.8 382.7 L662.8 382 L665.8 381.3 L668.8 380.6 L671.8 380 L674.8 379.3 L677.8 378.7 L680.8 378 L683.8 377.4 L686.8 376.8 L689.8 376.3 L692.8 375.7 L695.8 375.2 L698.8 374.7 L701.8 374.2 L704.8 373.7 L707.8 373.3 L710.8 372.8 L713.8 372.4 L716.8 372 L719.8 371.6 L722.8 371.2 L725.8 370.8 L728.8 370.4 L731.8 370 L734.8 369.6 L737.8 369.3 L740.8 369 L743.8 368.7 L746.8 368.4 L749.8 368.1 L752.8 367.8 L755.8 367.6 L758.8 367.3 L761.8 367.1 L764.8 366.9 L767.8 366.6 L770.8 366.4 L773.8 366.2 L776.8 366 L779.8 365.8 L782.8 365.6 L785.8 365.4 L788.8 365.2 L791.8 365 L794.8 364.8 L797.8 364.6 L800.8 364.3 L803.8 364.1 L806.8 363.9 L809.8 363.7 L812.8 363.5 L815.8 363.3 L818.8 363.1 L821.8 362.9 L824.8 362.7 L827.5 362.5 L827.5 381.5 L824.8 381.7 L821.8 381.9 L818.8 382.1 L815.8 382.3 L812.8 382.5 L809.8 382.7 L806.8 382.9 L803.8 383.1 L800.8 383.3 L797.8 383.6 L794.8 383.8 L791.8 384 L788.8 384.2 L785.8 384.4 L782.8 384.6 L779.8 384.8 L776.8 385 L773.8 385.2 L770.8 385.4 L767.8 385.6 L764.8 385.9 L761.8 386.1 L758.8 386.3 L755.8 386.6 L752.8 386.8 L749.8 387.1 L746.8 387.4 L743.8 387.7 L740.8 388 L737.8 388.3 L734.8 388.6 L731.8 389 L728.8 389.4 L725.8 389.8 L722.8 390.2 L719.8 390.6 L716.8 391 L713.8 391.4 L710.8 391.8 L707.8 392.3 L704.8 392.7 L701.8 393.2 L698.8 393.7 L695.8 394.2 L692.8 394.7 L689.8 395.3 L686.8 395.8 L683.8 396.4 L680.8 397 L677.8 397.7 L674.8 398.3 L671.8 399 L668.8 399.6 L665.8 400.3 L662.8 401 L659.8 401.7 L656.8 402.4 L653.8 403.1 L650.8 403.8 L647.8 404.6 L644.8 405.3 L641.8 406.1 Z" fill="url(#hxr)"/>
<path d="M641.8 387.1 L644.8 386.3 L647.8 385.6 L650.8 384.8 L653.8 384.1 L656.8 383.4 L659.8 382.7 L662.8 382 L665.8 381.3 L668.8 380.6 L671.8 380 L674.8 379.3 L677.8 378.7 L680.8 378 L683.8 377.4 L686.8 376.8 L689.8 376.3 L692.8 375.7 L695.8 375.2 L698.8 374.7 L701.8 374.2 L704.8 373.7 L707.8 373.3 L710.8 372.8 L713.8 372.4 L716.8 372 L719.8 371.6 L722.8 371.2 L725.8 370.8 L728.8 370.4 L731.8 370 L734.8 369.6 L737.8 369.3 L740.8 369 L743.8 368.7 L746.8 368.4 L749.8 368.1 L752.8 367.8 L755.8 367.6 L758.8 367.3 L761.8 367.1 L764.8 366.9 L767.8 366.6 L770.8 366.4 L773.8 366.2 L776.8 366 L779.8 365.8 L782.8 365.6 L785.8 365.4 L788.8 365.2 L791.8 365 L794.8 364.8 L797.8 364.6 L800.8 364.3 L803.8 364.1 L806.8 363.9 L809.8 363.7 L812.8 363.5 L815.8 363.3 L818.8 363.1 L821.8 362.9 L824.8 362.7 L827.5 362.5" fill="none" stroke="#70f0f0" stroke-width="0.75"/>
<path d="M641.8 406.1 L644.8 405.3 L647.8 404.6 L650.8 403.8 L653.8 403.1 L656.8 402.4 L659.8 401.7 L662.8 401 L665.8 400.3 L668.8 399.6 L671.8 399 L674.8 398.3 L677.8 397.7 L680.8 397 L683.8 396.4 L686.8 395.8 L689.8 395.3 L692.8 394.7 L695.8 394.2 L698.8 393.7 L701.8 393.2 L704.8 392.7 L707.8 392.3 L710.8 391.8 L713.8 391.4 L716.8 391 L719.8 390.6 L722.8 390.2 L725.8 389.8 L728.8 389.4 L731.8 389 L734.8 388.6 L737.8 388.3 L740.8 388 L743.8 387.7 L746.8 387.4 L749.8 387.1 L752.8 386.8 L755.8 386.6 L758.8 386.3 L761.8 386.1 L764.8 385.9 L767.8 385.6 L770.8 385.4 L773.8 385.2 L776.8 385 L779.8 384.8 L782.8 384.6 L785.8 384.4 L788.8 384.2 L791.8 384 L794.8 383.8 L797.8 383.6 L800.8 383.3 L803.8 383.1 L806.8 382.9 L809.8 382.7 L812.8 382.5 L815.8 382.3 L818.8 382.1 L821.8 381.9 L824.8 381.7 L827.5 381.5" fill="none" stroke="#70f0f0" stroke-width="0.75"/>
<path d="M641.8 396.6 L644.8 395.8 L647.8 395.1 L650.8 394.3 L653.8 393.6 L656.8 392.9 L659.8 392.2 L662.8 391.5 L665.8 390.8 L668.8 390.1 L671.8 389.5 L674.8 388.8 L677.8 388.2 L680.8 387.5 L683.8 386.9 L686.8 386.3 L689.8 385.8 L692.8 385.2 L695.8 384.7 L698.8 384.2 L701.8 383.7 L704.8 383.2 L707.8 382.8 L710.8 382.3 L713.8 381.9 L716.8 381.5 L719.8 381.1 L722.8 380.7 L725.8 380.3 L728.8 379.9 L731.8 379.5 L734.8 379.1 L737.8 378.8 L740.8 378.5 L743.8 378.2 L746.8 377.9 L749.8 377.6 L752.8 377.3 L755.8 377.1 L758.8 376.8 L761.8 376.6 L764.8 376.4 L767.8 376.1 L770.8 375.9 L773.8 375.7 L776.8 375.5 L779.8 375.3 L782.8 375.1 L785.8 374.9 L788.8 374.7 L791.8 374.5 L794.8 374.3 L797.8 374.1 L800.8 373.8 L803.8 373.6 L806.8 373.4 L809.8 373.2 L812.8 373 L815.8 372.8 L818.8 372.6 L821.8 372.4 L824.8 372.2 L827.5 372" fill="none" stroke="#005a5a" stroke-width="1.1"/>
<path d="M642.1 13.3 L642.2 14.8 L642.3 16.3 L642.4 17.8 L642.5 19.3 L642.6 20.8 L642.7 22.3 L642.8 23.8 L642.9 25.3 L643 26.8 L643.1 28.3 L643.3 29.8 L643.4 31.3 L643.6 32.7 L643.7 34.2 L643.9 35.7 L644.1 37.2 L644.2 38.7 L644.4 40.2 L644.6 41.7 L644.8 43.2 L645 44.7 L645.2 46.1 L645.4 47.6 L645.6 49.1 L645.8 50.6 L646.1 52.1 L646.3 53.6 L646.5 55.1 L646.7 56.5 L647 58 L647.2 59.5 L647.5 61 L647.7 62.5 L648 63.9 L648.2 65.4 L648.5 66.9 L648.8 68.4 L649 69.8 L649.3 71.3 L649.6 72.8 L649.9 74.3 L650.2 75.7 L650.5 77.2 L650.8 78.7 L651.1 80.1 L651.4 81.6 L651.7 83.1 L652 84.5 L652.4 86 L652.7 87.5 L653 88.9 L653.4 90.4 L653.7 91.8 L654.1 93.3 L654.5 94.8 L654.8 96.2 L655.2 97.7 L655.6 99.1 L656 100.6 L656.4 102 L656.8 103.5 L657.2 104.9 L657.6 106.3 L658 107.8 L658.5 109.2 L659 110.6 L659.4 112 L659.9 113.5 L660.4 114.9 L660.9 116.3 L661.4 117.7 L661.9 119.1 L662.4 120.5 L662.9 122 L663.4 123.4 L663.9 124.8 L664.5 126.2 L665 127.6 L665.5 129 L666 130.4 L666.5 131.8 L667.1 133.2 L667.6 134.6 L668.1 136 L668.7 137.4 L669.2 138.8 L669.8 140.2 L670.3 141.6 L670.9 143 L671.4 144.4 L672 145.8 L672.6 147.2 L673.1 148.6 L673.7 150 L674.3 151.3 L674.9 152.7 L675.5 154.1 L676.1 155.5 L676.7 156.8 L677.3 158.2 L677.9 159.6 L678.5 160.9 L679.2 162.3 L679.8 163.7 L680.4 165 L681.1 166.4 L681.7 167.7 L682.4 169.1 L683 170.5 L683.7 171.8 L684.3 173.2 L685 174.5 L685.6 175.8 L686.3 177.2 L687 178.5 L687.7 179.9 L688.4 181.2 L689 182.5 L689.7 183.8 L690.4 185.2 L691.2 186.5 L691.9 187.8 L692.6 189.1 L693.3 190.4 L694 191.8 L694.8 193.1 L695.5 194.4 L696.3 195.7 L697 197 L697.8 198.3 L698.6 199.6 L699.3 200.8 L700.1 202.1 L700.9 203.4 L701.7 204.7 L702.5 205.9 L703.3 207.2 L704.1 208.5 L704.9 209.7 L705.7 211 L706.6 212.2 L707.4 213.5 L708.3 214.7 L709.1 215.9 L710 217.2 L710.8 218.4 L711.7 219.6 L712.6 220.8 L713.5 222.1 L714.4 223.3 L715.3 224.5 L716.2 225.6 L717.1 226.8 L718.1 228 L719 229.2 L719.9 230.3 L720.9 231.5 L721.9 232.6 L722.8 233.8 L723.8 234.9 L724.8 236 L725.8 237.1 L726.9 238.2 L727.9 239.3 L728.9 240.4 L729.9 241.5 L731 242.6 L732 243.7 L733.1 244.8 L734.1 245.8 L735.2 246.9 L736.2 248 L737.3 249 L738.4 250.1 L739.5 251.1 L740.5 252.2 L741.6 253.2 L742.7 254.2 L743.8 255.2 L745 256.2 L746.1 257.2 L747.2 258.2 L748.3 259.2 L749.5 260.2 L750.6 261.1 L751.8 262 L753 263 L754.2 263.9 L755.3 264.8 L756.5 265.7 L757.8 266.6 L759 267.5 L760.2 268.3 L761.4 269.2 L762.7 270 L763.9 270.9 L765.2 271.7 L766.4 272.6 L767.7 273.4 L769 274.2 L770.2 275 L771.5 275.8 L772.8 276.6 L774.1 277.3 L775.4 278.1 L776.6 278.9 L777.9 279.6 L779.2 280.4 L780.5 281.1 L781.9 281.9 L783.2 282.6 L784.5 283.3 L785.8 284.1 L787.1 284.8 L788.5 285.5 L789.8 286.1 L791.2 286.8 L792.5 287.5 L793.9 288.1 L795.3 288.7 L796.6 289.3 L798 289.8 L799.4 290.4 L800.8 290.9 L802.2 291.4 L803.6 292 L805 292.5 L806.4 293 L807.8 293.5 L809.2 294 L810.6 294.4 L812 294.9 L813.5 295.3 L814.9 295.8 L816.4 296.2 L817.8 296.6 L819.3 297 L820.7 297.4 L822.2 297.8 L823.7 298.1 L825.1 298.5 L826.6 298.8 L827.5 299" fill="none" stroke="#000" stroke-width="1.2" stroke-linecap="round" stroke-dasharray="0.1 5.6"/>
<path d="M679.2 245.7H740.4M679.2 242.7V248.7M740.4 242.7V248.7" stroke="#ff5050" stroke-width="1" fill="none"/>
<circle cx="643.2" cy="39" r="4.5" fill="#ff0000"/>
<circle cx="645" cy="55.3" r="4.5" fill="#ff0000"/>
<circle cx="646" cy="60" r="4.5" fill="#ff0000"/>
<circle cx="647.4" cy="71.8" r="4.5" fill="#ff0000"/>
<circle cx="651.7" cy="87.8" r="4.5" fill="#ff0000"/>
<circle cx="655.7" cy="105.2" r="4.5" fill="#ff0000"/>
<circle cx="674.1" cy="159.4" r="4.5" fill="#ff0000"/>
<circle cx="706.5" cy="217.4" r="4.5" fill="#ff0000"/>
<circle cx="710.2" cy="245.7" r="4.5" fill="#ff0000"/>
<circle cx="797.9" cy="307.1" r="4.5" fill="#ff0000"/>
<circle cx="804.6" cy="301.5" r="4.5" fill="#ff0000"/>
<circle cx="810.2" cy="319.8" r="4.5" fill="#ff0000"/>
<circle cx="815.4" cy="313.3" r="4.5" fill="#ff0000"/>
<circle cx="820.8" cy="315.5" r="4.5" fill="#ff0000"/>
<circle cx="826" cy="316.6" r="4.5" fill="#ff0000"/>
</g>
<g stroke="#111" fill="none">
<rect x="641.8" y="13.3" width="185.5" height="435.2" stroke-width="0.9"/>
<path d="M641.8 13.3H639.6M827.3 13.3H825.1M641.8 47.8H639.6M827.3 47.8H825.1M641.8 92.4H639.6M827.3 92.4H825.1M641.8 155.1H639.6M827.3 155.1H825.1M641.8 262.4H638.4M827.3 262.4H823.9M641.8 278.7H639.6M827.3 278.7H825.1M641.8 297H639.6M827.3 297H825.1M641.8 317.6H639.6M827.3 317.6H825.1M641.8 341.5H639.6M827.3 341.5H825.1M641.8 369.7H639.6M827.3 369.7H825.1M641.8 404.2H639.6M827.3 404.2H825.1M641.8 448.8H639.6M827.3 448.8H825.1M641.8 448.5V452.1M641.8 13.3V16.9M673.7 448.5V450.5M673.7 13.3V15.3M705.7 448.5V450.5M705.7 13.3V15.3M737.6 448.5V450.5M737.6 13.3V15.3M769.5 448.5V450.5M769.5 13.3V15.3M801.4 448.5V452.1M801.4 13.3V16.9" stroke-width="0.9"/>
</g>
<g font-size="21.3" text-anchor="end">
<text x="634.6" y="18.5">500</text>
<text x="634.6" y="53">400</text>
<text x="634.6" y="97.6">300</text>
<text x="634.6" y="160.3">200</text>
<text x="634.6" y="267.6">100</text>
<text x="634.6" y="283.9">90</text>
<text x="634.6" y="302.2">80</text>
<text x="634.6" y="322.8">70</text>
<text x="634.6" y="346.7">60</text>
<text x="634.6" y="374.9">50</text>
<text x="634.6" y="409.4">40</text>
<text x="634.6" y="454">30</text>
</g>
<g font-size="21.3" text-anchor="middle">
<text x="642.1" y="470.7">0</text>
<text x="801.7" y="470.7">5</text>
</g>
<text font-size="21.5" x="670.8" y="38.3">Sample 64455</text>
<text font-size="24.9" x="658.7" y="507" text-anchor="start">Depth (g/cm<tspan font-size="14.6" dy="-12.3">2</tspan><tspan dy="12.3">)</tspan></text>
</svg>
</body></html>
